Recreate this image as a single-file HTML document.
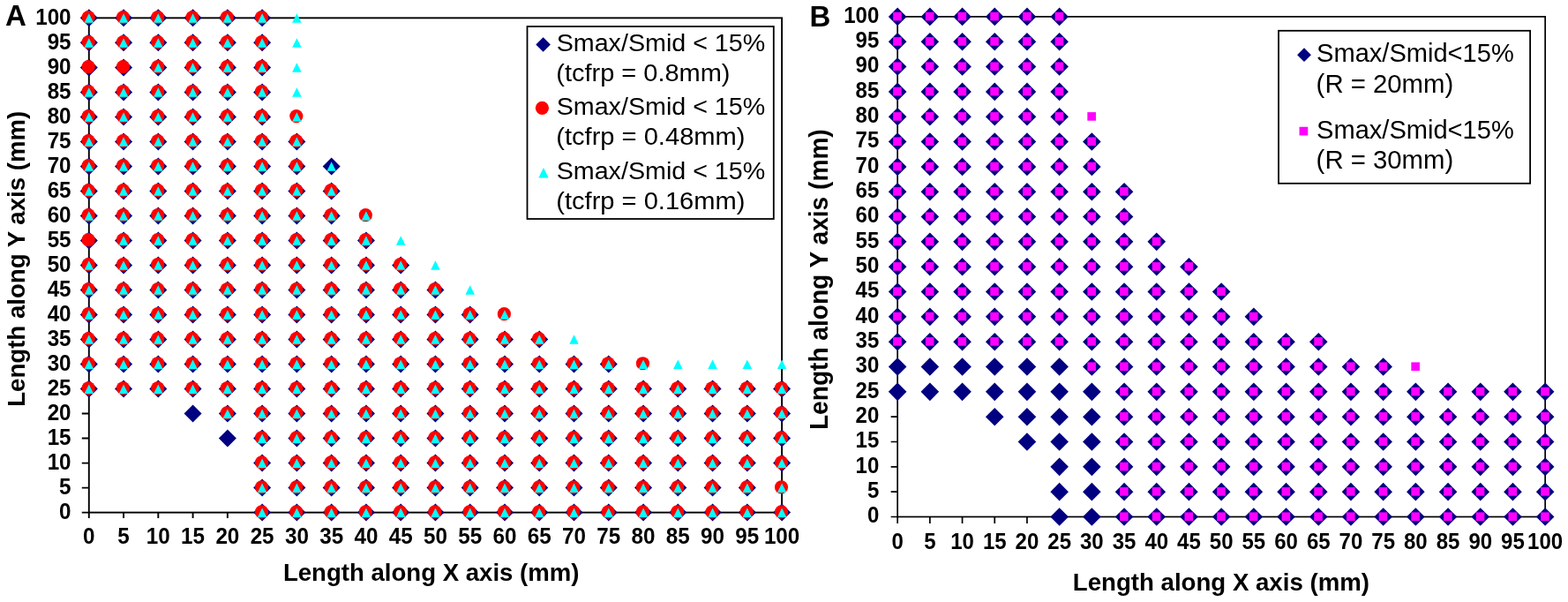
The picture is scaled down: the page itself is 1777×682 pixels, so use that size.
<!DOCTYPE html>
<html><head><meta charset="utf-8"><title>Smax/Smid scatter plots</title>
<style>html,body{margin:0;padding:0;background:#fff;}body{width:1777px;height:682px;overflow:hidden;}svg{display:block;}</style>
</head><body>
<svg width="1777" height="682" viewBox="0 0 1777 682">
<rect width="1777" height="682" fill="#fff"/>
<rect x="100.8" y="20.35" width="785.3" height="560.25" fill="none" stroke="#000" stroke-width="1.9"/>
<path d="M92.8 580.6H100.8M100.8 580.6V587.1M92.8 552.59H100.8M140.06 580.6V587.1M92.8 524.58H100.8M179.33 580.6V587.1M92.8 496.56H100.8M218.59 580.6V587.1M92.8 468.55H100.8M257.86 580.6V587.1M92.8 440.54H100.8M297.12 580.6V587.1M92.8 412.53H100.8M336.39 580.6V587.1M92.8 384.51H100.8M375.66 580.6V587.1M92.8 356.5H100.8M414.92 580.6V587.1M92.8 328.49H100.8M454.19 580.6V587.1M92.8 300.48H100.8M493.45 580.6V587.1M92.8 272.46H100.8M532.71 580.6V587.1M92.8 244.45H100.8M571.98 580.6V587.1M92.8 216.44H100.8M611.25 580.6V587.1M92.8 188.43H100.8M650.51 580.6V587.1M92.8 160.41H100.8M689.77 580.6V587.1M92.8 132.4H100.8M729.04 580.6V587.1M92.8 104.39H100.8M768.3 580.6V587.1M92.8 76.38H100.8M807.57 580.6V587.1M92.8 48.36H100.8M846.83 580.6V587.1M92.8 20.35H100.8M886.1 580.6V587.1" stroke="#000" stroke-width="1.9" fill="none"/>
<path d="M100.8 10.35L110.8 20.35L100.8 30.35L90.8 20.35Z" fill="#000080"/>
<path d="M100.8 38.36L110.8 48.36L100.8 58.36L90.8 48.36Z" fill="#000080"/>
<path d="M100.8 66.38L110.8 76.38L100.8 86.38L90.8 76.38Z" fill="#000080"/>
<path d="M100.8 94.39L110.8 104.39L100.8 114.39L90.8 104.39Z" fill="#000080"/>
<path d="M100.8 122.4L110.8 132.4L100.8 142.4L90.8 132.4Z" fill="#000080"/>
<path d="M100.8 150.41L110.8 160.41L100.8 170.41L90.8 160.41Z" fill="#000080"/>
<path d="M100.8 178.43L110.8 188.43L100.8 198.43L90.8 188.43Z" fill="#000080"/>
<path d="M100.8 206.44L110.8 216.44L100.8 226.44L90.8 216.44Z" fill="#000080"/>
<path d="M100.8 234.45L110.8 244.45L100.8 254.45L90.8 244.45Z" fill="#000080"/>
<path d="M100.8 262.46L110.8 272.46L100.8 282.46L90.8 272.46Z" fill="#000080"/>
<path d="M100.8 290.48L110.8 300.48L100.8 310.48L90.8 300.48Z" fill="#000080"/>
<path d="M100.8 318.49L110.8 328.49L100.8 338.49L90.8 328.49Z" fill="#000080"/>
<path d="M100.8 346.5L110.8 356.5L100.8 366.5L90.8 356.5Z" fill="#000080"/>
<path d="M100.8 374.51L110.8 384.51L100.8 394.51L90.8 384.51Z" fill="#000080"/>
<path d="M100.8 402.53L110.8 412.53L100.8 422.53L90.8 412.53Z" fill="#000080"/>
<path d="M100.8 430.54L110.8 440.54L100.8 450.54L90.8 440.54Z" fill="#000080"/>
<path d="M140.06 10.35L150.06 20.35L140.06 30.35L130.06 20.35Z" fill="#000080"/>
<path d="M140.06 38.36L150.06 48.36L140.06 58.36L130.06 48.36Z" fill="#000080"/>
<path d="M140.06 66.38L150.06 76.38L140.06 86.38L130.06 76.38Z" fill="#000080"/>
<path d="M140.06 94.39L150.06 104.39L140.06 114.39L130.06 104.39Z" fill="#000080"/>
<path d="M140.06 122.4L150.06 132.4L140.06 142.4L130.06 132.4Z" fill="#000080"/>
<path d="M140.06 150.41L150.06 160.41L140.06 170.41L130.06 160.41Z" fill="#000080"/>
<path d="M140.06 178.43L150.06 188.43L140.06 198.43L130.06 188.43Z" fill="#000080"/>
<path d="M140.06 206.44L150.06 216.44L140.06 226.44L130.06 216.44Z" fill="#000080"/>
<path d="M140.06 234.45L150.06 244.45L140.06 254.45L130.06 244.45Z" fill="#000080"/>
<path d="M140.06 262.46L150.06 272.46L140.06 282.46L130.06 272.46Z" fill="#000080"/>
<path d="M140.06 290.48L150.06 300.48L140.06 310.48L130.06 300.48Z" fill="#000080"/>
<path d="M140.06 318.49L150.06 328.49L140.06 338.49L130.06 328.49Z" fill="#000080"/>
<path d="M140.06 346.5L150.06 356.5L140.06 366.5L130.06 356.5Z" fill="#000080"/>
<path d="M140.06 374.51L150.06 384.51L140.06 394.51L130.06 384.51Z" fill="#000080"/>
<path d="M140.06 402.53L150.06 412.53L140.06 422.53L130.06 412.53Z" fill="#000080"/>
<path d="M140.06 430.54L150.06 440.54L140.06 450.54L130.06 440.54Z" fill="#000080"/>
<path d="M179.33 10.35L189.33 20.35L179.33 30.35L169.33 20.35Z" fill="#000080"/>
<path d="M179.33 38.36L189.33 48.36L179.33 58.36L169.33 48.36Z" fill="#000080"/>
<path d="M179.33 66.38L189.33 76.38L179.33 86.38L169.33 76.38Z" fill="#000080"/>
<path d="M179.33 94.39L189.33 104.39L179.33 114.39L169.33 104.39Z" fill="#000080"/>
<path d="M179.33 122.4L189.33 132.4L179.33 142.4L169.33 132.4Z" fill="#000080"/>
<path d="M179.33 150.41L189.33 160.41L179.33 170.41L169.33 160.41Z" fill="#000080"/>
<path d="M179.33 178.43L189.33 188.43L179.33 198.43L169.33 188.43Z" fill="#000080"/>
<path d="M179.33 206.44L189.33 216.44L179.33 226.44L169.33 216.44Z" fill="#000080"/>
<path d="M179.33 234.45L189.33 244.45L179.33 254.45L169.33 244.45Z" fill="#000080"/>
<path d="M179.33 262.46L189.33 272.46L179.33 282.46L169.33 272.46Z" fill="#000080"/>
<path d="M179.33 290.48L189.33 300.48L179.33 310.48L169.33 300.48Z" fill="#000080"/>
<path d="M179.33 318.49L189.33 328.49L179.33 338.49L169.33 328.49Z" fill="#000080"/>
<path d="M179.33 346.5L189.33 356.5L179.33 366.5L169.33 356.5Z" fill="#000080"/>
<path d="M179.33 374.51L189.33 384.51L179.33 394.51L169.33 384.51Z" fill="#000080"/>
<path d="M179.33 402.53L189.33 412.53L179.33 422.53L169.33 412.53Z" fill="#000080"/>
<path d="M179.33 430.54L189.33 440.54L179.33 450.54L169.33 440.54Z" fill="#000080"/>
<path d="M218.59 10.35L228.59 20.35L218.59 30.35L208.59 20.35Z" fill="#000080"/>
<path d="M218.59 38.36L228.59 48.36L218.59 58.36L208.59 48.36Z" fill="#000080"/>
<path d="M218.59 66.38L228.59 76.38L218.59 86.38L208.59 76.38Z" fill="#000080"/>
<path d="M218.59 94.39L228.59 104.39L218.59 114.39L208.59 104.39Z" fill="#000080"/>
<path d="M218.59 122.4L228.59 132.4L218.59 142.4L208.59 132.4Z" fill="#000080"/>
<path d="M218.59 150.41L228.59 160.41L218.59 170.41L208.59 160.41Z" fill="#000080"/>
<path d="M218.59 178.43L228.59 188.43L218.59 198.43L208.59 188.43Z" fill="#000080"/>
<path d="M218.59 206.44L228.59 216.44L218.59 226.44L208.59 216.44Z" fill="#000080"/>
<path d="M218.59 234.45L228.59 244.45L218.59 254.45L208.59 244.45Z" fill="#000080"/>
<path d="M218.59 262.46L228.59 272.46L218.59 282.46L208.59 272.46Z" fill="#000080"/>
<path d="M218.59 290.48L228.59 300.48L218.59 310.48L208.59 300.48Z" fill="#000080"/>
<path d="M218.59 318.49L228.59 328.49L218.59 338.49L208.59 328.49Z" fill="#000080"/>
<path d="M218.59 346.5L228.59 356.5L218.59 366.5L208.59 356.5Z" fill="#000080"/>
<path d="M218.59 374.51L228.59 384.51L218.59 394.51L208.59 384.51Z" fill="#000080"/>
<path d="M218.59 402.53L228.59 412.53L218.59 422.53L208.59 412.53Z" fill="#000080"/>
<path d="M218.59 430.54L228.59 440.54L218.59 450.54L208.59 440.54Z" fill="#000080"/>
<path d="M218.59 458.55L228.59 468.55L218.59 478.55L208.59 468.55Z" fill="#000080"/>
<path d="M257.86 10.35L267.86 20.35L257.86 30.35L247.86 20.35Z" fill="#000080"/>
<path d="M257.86 38.36L267.86 48.36L257.86 58.36L247.86 48.36Z" fill="#000080"/>
<path d="M257.86 66.38L267.86 76.38L257.86 86.38L247.86 76.38Z" fill="#000080"/>
<path d="M257.86 94.39L267.86 104.39L257.86 114.39L247.86 104.39Z" fill="#000080"/>
<path d="M257.86 122.4L267.86 132.4L257.86 142.4L247.86 132.4Z" fill="#000080"/>
<path d="M257.86 150.41L267.86 160.41L257.86 170.41L247.86 160.41Z" fill="#000080"/>
<path d="M257.86 178.43L267.86 188.43L257.86 198.43L247.86 188.43Z" fill="#000080"/>
<path d="M257.86 206.44L267.86 216.44L257.86 226.44L247.86 216.44Z" fill="#000080"/>
<path d="M257.86 234.45L267.86 244.45L257.86 254.45L247.86 244.45Z" fill="#000080"/>
<path d="M257.86 262.46L267.86 272.46L257.86 282.46L247.86 272.46Z" fill="#000080"/>
<path d="M257.86 290.48L267.86 300.48L257.86 310.48L247.86 300.48Z" fill="#000080"/>
<path d="M257.86 318.49L267.86 328.49L257.86 338.49L247.86 328.49Z" fill="#000080"/>
<path d="M257.86 346.5L267.86 356.5L257.86 366.5L247.86 356.5Z" fill="#000080"/>
<path d="M257.86 374.51L267.86 384.51L257.86 394.51L247.86 384.51Z" fill="#000080"/>
<path d="M257.86 402.53L267.86 412.53L257.86 422.53L247.86 412.53Z" fill="#000080"/>
<path d="M257.86 430.54L267.86 440.54L257.86 450.54L247.86 440.54Z" fill="#000080"/>
<path d="M257.86 458.55L267.86 468.55L257.86 478.55L247.86 468.55Z" fill="#000080"/>
<path d="M257.86 486.56L267.86 496.56L257.86 506.56L247.86 496.56Z" fill="#000080"/>
<path d="M297.12 10.35L307.12 20.35L297.12 30.35L287.12 20.35Z" fill="#000080"/>
<path d="M297.12 38.36L307.12 48.36L297.12 58.36L287.12 48.36Z" fill="#000080"/>
<path d="M297.12 66.38L307.12 76.38L297.12 86.38L287.12 76.38Z" fill="#000080"/>
<path d="M297.12 94.39L307.12 104.39L297.12 114.39L287.12 104.39Z" fill="#000080"/>
<path d="M297.12 122.4L307.12 132.4L297.12 142.4L287.12 132.4Z" fill="#000080"/>
<path d="M297.12 150.41L307.12 160.41L297.12 170.41L287.12 160.41Z" fill="#000080"/>
<path d="M297.12 178.43L307.12 188.43L297.12 198.43L287.12 188.43Z" fill="#000080"/>
<path d="M297.12 206.44L307.12 216.44L297.12 226.44L287.12 216.44Z" fill="#000080"/>
<path d="M297.12 234.45L307.12 244.45L297.12 254.45L287.12 244.45Z" fill="#000080"/>
<path d="M297.12 262.46L307.12 272.46L297.12 282.46L287.12 272.46Z" fill="#000080"/>
<path d="M297.12 290.48L307.12 300.48L297.12 310.48L287.12 300.48Z" fill="#000080"/>
<path d="M297.12 318.49L307.12 328.49L297.12 338.49L287.12 328.49Z" fill="#000080"/>
<path d="M297.12 346.5L307.12 356.5L297.12 366.5L287.12 356.5Z" fill="#000080"/>
<path d="M297.12 374.51L307.12 384.51L297.12 394.51L287.12 384.51Z" fill="#000080"/>
<path d="M297.12 402.53L307.12 412.53L297.12 422.53L287.12 412.53Z" fill="#000080"/>
<path d="M297.12 430.54L307.12 440.54L297.12 450.54L287.12 440.54Z" fill="#000080"/>
<path d="M297.12 458.55L307.12 468.55L297.12 478.55L287.12 468.55Z" fill="#000080"/>
<path d="M297.12 486.56L307.12 496.56L297.12 506.56L287.12 496.56Z" fill="#000080"/>
<path d="M297.12 514.58L307.12 524.58L297.12 534.58L287.12 524.58Z" fill="#000080"/>
<path d="M297.12 542.59L307.12 552.59L297.12 562.59L287.12 552.59Z" fill="#000080"/>
<path d="M297.12 570.6L307.12 580.6L297.12 590.6L287.12 580.6Z" fill="#000080"/>
<path d="M336.39 150.41L346.39 160.41L336.39 170.41L326.39 160.41Z" fill="#000080"/>
<path d="M336.39 178.43L346.39 188.43L336.39 198.43L326.39 188.43Z" fill="#000080"/>
<path d="M336.39 206.44L346.39 216.44L336.39 226.44L326.39 216.44Z" fill="#000080"/>
<path d="M336.39 234.45L346.39 244.45L336.39 254.45L326.39 244.45Z" fill="#000080"/>
<path d="M336.39 262.46L346.39 272.46L336.39 282.46L326.39 272.46Z" fill="#000080"/>
<path d="M336.39 290.48L346.39 300.48L336.39 310.48L326.39 300.48Z" fill="#000080"/>
<path d="M336.39 318.49L346.39 328.49L336.39 338.49L326.39 328.49Z" fill="#000080"/>
<path d="M336.39 346.5L346.39 356.5L336.39 366.5L326.39 356.5Z" fill="#000080"/>
<path d="M336.39 374.51L346.39 384.51L336.39 394.51L326.39 384.51Z" fill="#000080"/>
<path d="M336.39 402.53L346.39 412.53L336.39 422.53L326.39 412.53Z" fill="#000080"/>
<path d="M336.39 430.54L346.39 440.54L336.39 450.54L326.39 440.54Z" fill="#000080"/>
<path d="M336.39 458.55L346.39 468.55L336.39 478.55L326.39 468.55Z" fill="#000080"/>
<path d="M336.39 486.56L346.39 496.56L336.39 506.56L326.39 496.56Z" fill="#000080"/>
<path d="M336.39 514.58L346.39 524.58L336.39 534.58L326.39 524.58Z" fill="#000080"/>
<path d="M336.39 542.59L346.39 552.59L336.39 562.59L326.39 552.59Z" fill="#000080"/>
<path d="M336.39 570.6L346.39 580.6L336.39 590.6L326.39 580.6Z" fill="#000080"/>
<path d="M375.66 178.43L385.66 188.43L375.66 198.43L365.66 188.43Z" fill="#000080"/>
<path d="M375.66 206.44L385.66 216.44L375.66 226.44L365.66 216.44Z" fill="#000080"/>
<path d="M375.66 234.45L385.66 244.45L375.66 254.45L365.66 244.45Z" fill="#000080"/>
<path d="M375.66 262.46L385.66 272.46L375.66 282.46L365.66 272.46Z" fill="#000080"/>
<path d="M375.66 290.48L385.66 300.48L375.66 310.48L365.66 300.48Z" fill="#000080"/>
<path d="M375.66 318.49L385.66 328.49L375.66 338.49L365.66 328.49Z" fill="#000080"/>
<path d="M375.66 346.5L385.66 356.5L375.66 366.5L365.66 356.5Z" fill="#000080"/>
<path d="M375.66 374.51L385.66 384.51L375.66 394.51L365.66 384.51Z" fill="#000080"/>
<path d="M375.66 402.53L385.66 412.53L375.66 422.53L365.66 412.53Z" fill="#000080"/>
<path d="M375.66 430.54L385.66 440.54L375.66 450.54L365.66 440.54Z" fill="#000080"/>
<path d="M375.66 458.55L385.66 468.55L375.66 478.55L365.66 468.55Z" fill="#000080"/>
<path d="M375.66 486.56L385.66 496.56L375.66 506.56L365.66 496.56Z" fill="#000080"/>
<path d="M375.66 514.58L385.66 524.58L375.66 534.58L365.66 524.58Z" fill="#000080"/>
<path d="M375.66 542.59L385.66 552.59L375.66 562.59L365.66 552.59Z" fill="#000080"/>
<path d="M375.66 570.6L385.66 580.6L375.66 590.6L365.66 580.6Z" fill="#000080"/>
<path d="M414.92 262.46L424.92 272.46L414.92 282.46L404.92 272.46Z" fill="#000080"/>
<path d="M414.92 290.48L424.92 300.48L414.92 310.48L404.92 300.48Z" fill="#000080"/>
<path d="M414.92 318.49L424.92 328.49L414.92 338.49L404.92 328.49Z" fill="#000080"/>
<path d="M414.92 346.5L424.92 356.5L414.92 366.5L404.92 356.5Z" fill="#000080"/>
<path d="M414.92 374.51L424.92 384.51L414.92 394.51L404.92 384.51Z" fill="#000080"/>
<path d="M414.92 402.53L424.92 412.53L414.92 422.53L404.92 412.53Z" fill="#000080"/>
<path d="M414.92 430.54L424.92 440.54L414.92 450.54L404.92 440.54Z" fill="#000080"/>
<path d="M414.92 458.55L424.92 468.55L414.92 478.55L404.92 468.55Z" fill="#000080"/>
<path d="M414.92 486.56L424.92 496.56L414.92 506.56L404.92 496.56Z" fill="#000080"/>
<path d="M414.92 514.58L424.92 524.58L414.92 534.58L404.92 524.58Z" fill="#000080"/>
<path d="M414.92 542.59L424.92 552.59L414.92 562.59L404.92 552.59Z" fill="#000080"/>
<path d="M414.92 570.6L424.92 580.6L414.92 590.6L404.92 580.6Z" fill="#000080"/>
<path d="M454.19 290.48L464.19 300.48L454.19 310.48L444.19 300.48Z" fill="#000080"/>
<path d="M454.19 318.49L464.19 328.49L454.19 338.49L444.19 328.49Z" fill="#000080"/>
<path d="M454.19 346.5L464.19 356.5L454.19 366.5L444.19 356.5Z" fill="#000080"/>
<path d="M454.19 374.51L464.19 384.51L454.19 394.51L444.19 384.51Z" fill="#000080"/>
<path d="M454.19 402.53L464.19 412.53L454.19 422.53L444.19 412.53Z" fill="#000080"/>
<path d="M454.19 430.54L464.19 440.54L454.19 450.54L444.19 440.54Z" fill="#000080"/>
<path d="M454.19 458.55L464.19 468.55L454.19 478.55L444.19 468.55Z" fill="#000080"/>
<path d="M454.19 486.56L464.19 496.56L454.19 506.56L444.19 496.56Z" fill="#000080"/>
<path d="M454.19 514.58L464.19 524.58L454.19 534.58L444.19 524.58Z" fill="#000080"/>
<path d="M454.19 542.59L464.19 552.59L454.19 562.59L444.19 552.59Z" fill="#000080"/>
<path d="M454.19 570.6L464.19 580.6L454.19 590.6L444.19 580.6Z" fill="#000080"/>
<path d="M493.45 318.49L503.45 328.49L493.45 338.49L483.45 328.49Z" fill="#000080"/>
<path d="M493.45 346.5L503.45 356.5L493.45 366.5L483.45 356.5Z" fill="#000080"/>
<path d="M493.45 374.51L503.45 384.51L493.45 394.51L483.45 384.51Z" fill="#000080"/>
<path d="M493.45 402.53L503.45 412.53L493.45 422.53L483.45 412.53Z" fill="#000080"/>
<path d="M493.45 430.54L503.45 440.54L493.45 450.54L483.45 440.54Z" fill="#000080"/>
<path d="M493.45 458.55L503.45 468.55L493.45 478.55L483.45 468.55Z" fill="#000080"/>
<path d="M493.45 486.56L503.45 496.56L493.45 506.56L483.45 496.56Z" fill="#000080"/>
<path d="M493.45 514.58L503.45 524.58L493.45 534.58L483.45 524.58Z" fill="#000080"/>
<path d="M493.45 542.59L503.45 552.59L493.45 562.59L483.45 552.59Z" fill="#000080"/>
<path d="M493.45 570.6L503.45 580.6L493.45 590.6L483.45 580.6Z" fill="#000080"/>
<path d="M532.71 346.5L542.71 356.5L532.71 366.5L522.71 356.5Z" fill="#000080"/>
<path d="M532.71 374.51L542.71 384.51L532.71 394.51L522.71 384.51Z" fill="#000080"/>
<path d="M532.71 402.53L542.71 412.53L532.71 422.53L522.71 412.53Z" fill="#000080"/>
<path d="M532.71 430.54L542.71 440.54L532.71 450.54L522.71 440.54Z" fill="#000080"/>
<path d="M532.71 458.55L542.71 468.55L532.71 478.55L522.71 468.55Z" fill="#000080"/>
<path d="M532.71 486.56L542.71 496.56L532.71 506.56L522.71 496.56Z" fill="#000080"/>
<path d="M532.71 514.58L542.71 524.58L532.71 534.58L522.71 524.58Z" fill="#000080"/>
<path d="M532.71 542.59L542.71 552.59L532.71 562.59L522.71 552.59Z" fill="#000080"/>
<path d="M532.71 570.6L542.71 580.6L532.71 590.6L522.71 580.6Z" fill="#000080"/>
<path d="M571.98 374.51L581.98 384.51L571.98 394.51L561.98 384.51Z" fill="#000080"/>
<path d="M571.98 402.53L581.98 412.53L571.98 422.53L561.98 412.53Z" fill="#000080"/>
<path d="M571.98 430.54L581.98 440.54L571.98 450.54L561.98 440.54Z" fill="#000080"/>
<path d="M571.98 458.55L581.98 468.55L571.98 478.55L561.98 468.55Z" fill="#000080"/>
<path d="M571.98 486.56L581.98 496.56L571.98 506.56L561.98 496.56Z" fill="#000080"/>
<path d="M571.98 514.58L581.98 524.58L571.98 534.58L561.98 524.58Z" fill="#000080"/>
<path d="M571.98 542.59L581.98 552.59L571.98 562.59L561.98 552.59Z" fill="#000080"/>
<path d="M571.98 570.6L581.98 580.6L571.98 590.6L561.98 580.6Z" fill="#000080"/>
<path d="M611.25 374.51L621.25 384.51L611.25 394.51L601.25 384.51Z" fill="#000080"/>
<path d="M611.25 402.53L621.25 412.53L611.25 422.53L601.25 412.53Z" fill="#000080"/>
<path d="M611.25 430.54L621.25 440.54L611.25 450.54L601.25 440.54Z" fill="#000080"/>
<path d="M611.25 458.55L621.25 468.55L611.25 478.55L601.25 468.55Z" fill="#000080"/>
<path d="M611.25 486.56L621.25 496.56L611.25 506.56L601.25 496.56Z" fill="#000080"/>
<path d="M611.25 514.58L621.25 524.58L611.25 534.58L601.25 524.58Z" fill="#000080"/>
<path d="M611.25 542.59L621.25 552.59L611.25 562.59L601.25 552.59Z" fill="#000080"/>
<path d="M611.25 570.6L621.25 580.6L611.25 590.6L601.25 580.6Z" fill="#000080"/>
<path d="M650.51 402.53L660.51 412.53L650.51 422.53L640.51 412.53Z" fill="#000080"/>
<path d="M650.51 430.54L660.51 440.54L650.51 450.54L640.51 440.54Z" fill="#000080"/>
<path d="M650.51 458.55L660.51 468.55L650.51 478.55L640.51 468.55Z" fill="#000080"/>
<path d="M650.51 486.56L660.51 496.56L650.51 506.56L640.51 496.56Z" fill="#000080"/>
<path d="M650.51 514.58L660.51 524.58L650.51 534.58L640.51 524.58Z" fill="#000080"/>
<path d="M650.51 542.59L660.51 552.59L650.51 562.59L640.51 552.59Z" fill="#000080"/>
<path d="M650.51 570.6L660.51 580.6L650.51 590.6L640.51 580.6Z" fill="#000080"/>
<path d="M689.77 402.53L699.77 412.53L689.77 422.53L679.77 412.53Z" fill="#000080"/>
<path d="M689.77 430.54L699.77 440.54L689.77 450.54L679.77 440.54Z" fill="#000080"/>
<path d="M689.77 458.55L699.77 468.55L689.77 478.55L679.77 468.55Z" fill="#000080"/>
<path d="M689.77 486.56L699.77 496.56L689.77 506.56L679.77 496.56Z" fill="#000080"/>
<path d="M689.77 514.58L699.77 524.58L689.77 534.58L679.77 524.58Z" fill="#000080"/>
<path d="M689.77 542.59L699.77 552.59L689.77 562.59L679.77 552.59Z" fill="#000080"/>
<path d="M689.77 570.6L699.77 580.6L689.77 590.6L679.77 580.6Z" fill="#000080"/>
<path d="M729.04 430.54L739.04 440.54L729.04 450.54L719.04 440.54Z" fill="#000080"/>
<path d="M729.04 458.55L739.04 468.55L729.04 478.55L719.04 468.55Z" fill="#000080"/>
<path d="M729.04 486.56L739.04 496.56L729.04 506.56L719.04 496.56Z" fill="#000080"/>
<path d="M729.04 514.58L739.04 524.58L729.04 534.58L719.04 524.58Z" fill="#000080"/>
<path d="M729.04 542.59L739.04 552.59L729.04 562.59L719.04 552.59Z" fill="#000080"/>
<path d="M729.04 570.6L739.04 580.6L729.04 590.6L719.04 580.6Z" fill="#000080"/>
<path d="M768.3 430.54L778.3 440.54L768.3 450.54L758.3 440.54Z" fill="#000080"/>
<path d="M768.3 458.55L778.3 468.55L768.3 478.55L758.3 468.55Z" fill="#000080"/>
<path d="M768.3 486.56L778.3 496.56L768.3 506.56L758.3 496.56Z" fill="#000080"/>
<path d="M768.3 514.58L778.3 524.58L768.3 534.58L758.3 524.58Z" fill="#000080"/>
<path d="M768.3 542.59L778.3 552.59L768.3 562.59L758.3 552.59Z" fill="#000080"/>
<path d="M768.3 570.6L778.3 580.6L768.3 590.6L758.3 580.6Z" fill="#000080"/>
<path d="M807.57 430.54L817.57 440.54L807.57 450.54L797.57 440.54Z" fill="#000080"/>
<path d="M807.57 458.55L817.57 468.55L807.57 478.55L797.57 468.55Z" fill="#000080"/>
<path d="M807.57 486.56L817.57 496.56L807.57 506.56L797.57 496.56Z" fill="#000080"/>
<path d="M807.57 514.58L817.57 524.58L807.57 534.58L797.57 524.58Z" fill="#000080"/>
<path d="M807.57 542.59L817.57 552.59L807.57 562.59L797.57 552.59Z" fill="#000080"/>
<path d="M807.57 570.6L817.57 580.6L807.57 590.6L797.57 580.6Z" fill="#000080"/>
<path d="M846.83 430.54L856.83 440.54L846.83 450.54L836.83 440.54Z" fill="#000080"/>
<path d="M846.83 458.55L856.83 468.55L846.83 478.55L836.83 468.55Z" fill="#000080"/>
<path d="M846.83 486.56L856.83 496.56L846.83 506.56L836.83 496.56Z" fill="#000080"/>
<path d="M846.83 514.58L856.83 524.58L846.83 534.58L836.83 524.58Z" fill="#000080"/>
<path d="M846.83 542.59L856.83 552.59L846.83 562.59L836.83 552.59Z" fill="#000080"/>
<path d="M846.83 570.6L856.83 580.6L846.83 590.6L836.83 580.6Z" fill="#000080"/>
<path d="M886.1 430.54L896.1 440.54L886.1 450.54L876.1 440.54Z" fill="#000080"/>
<path d="M886.1 458.55L896.1 468.55L886.1 478.55L876.1 468.55Z" fill="#000080"/>
<path d="M886.1 486.56L896.1 496.56L886.1 506.56L876.1 496.56Z" fill="#000080"/>
<path d="M886.1 514.58L896.1 524.58L886.1 534.58L876.1 524.58Z" fill="#000080"/>
<path d="M886.1 570.6L896.1 580.6L886.1 590.6L876.1 580.6Z" fill="#000080"/>
<circle cx="100.2" cy="19.55" r="7.6" fill="#ff0000"/>
<circle cx="100.2" cy="47.56" r="7.6" fill="#ff0000"/>
<circle cx="100.2" cy="75.58" r="7.6" fill="#ff0000"/>
<circle cx="100.2" cy="103.59" r="7.6" fill="#ff0000"/>
<circle cx="100.2" cy="131.6" r="7.6" fill="#ff0000"/>
<circle cx="100.2" cy="159.61" r="7.6" fill="#ff0000"/>
<circle cx="100.2" cy="187.62" r="7.6" fill="#ff0000"/>
<circle cx="100.2" cy="215.64" r="7.6" fill="#ff0000"/>
<circle cx="100.2" cy="243.65" r="7.6" fill="#ff0000"/>
<circle cx="100.2" cy="271.66" r="7.6" fill="#ff0000"/>
<circle cx="100.2" cy="299.68" r="7.6" fill="#ff0000"/>
<circle cx="100.2" cy="327.69" r="7.6" fill="#ff0000"/>
<circle cx="100.2" cy="355.7" r="7.6" fill="#ff0000"/>
<circle cx="100.2" cy="383.71" r="7.6" fill="#ff0000"/>
<circle cx="100.2" cy="411.73" r="7.6" fill="#ff0000"/>
<circle cx="100.2" cy="439.74" r="7.6" fill="#ff0000"/>
<circle cx="139.47" cy="19.55" r="7.6" fill="#ff0000"/>
<circle cx="139.47" cy="47.56" r="7.6" fill="#ff0000"/>
<circle cx="139.47" cy="75.58" r="7.6" fill="#ff0000"/>
<circle cx="139.47" cy="103.59" r="7.6" fill="#ff0000"/>
<circle cx="139.47" cy="131.6" r="7.6" fill="#ff0000"/>
<circle cx="139.47" cy="159.61" r="7.6" fill="#ff0000"/>
<circle cx="139.47" cy="187.62" r="7.6" fill="#ff0000"/>
<circle cx="139.47" cy="215.64" r="7.6" fill="#ff0000"/>
<circle cx="139.47" cy="243.65" r="7.6" fill="#ff0000"/>
<circle cx="139.47" cy="271.66" r="7.6" fill="#ff0000"/>
<circle cx="139.47" cy="299.68" r="7.6" fill="#ff0000"/>
<circle cx="139.47" cy="327.69" r="7.6" fill="#ff0000"/>
<circle cx="139.47" cy="355.7" r="7.6" fill="#ff0000"/>
<circle cx="139.47" cy="383.71" r="7.6" fill="#ff0000"/>
<circle cx="139.47" cy="411.73" r="7.6" fill="#ff0000"/>
<circle cx="139.47" cy="439.74" r="7.6" fill="#ff0000"/>
<circle cx="178.73" cy="19.55" r="7.6" fill="#ff0000"/>
<circle cx="178.73" cy="47.56" r="7.6" fill="#ff0000"/>
<circle cx="178.73" cy="75.58" r="7.6" fill="#ff0000"/>
<circle cx="178.73" cy="103.59" r="7.6" fill="#ff0000"/>
<circle cx="178.73" cy="131.6" r="7.6" fill="#ff0000"/>
<circle cx="178.73" cy="159.61" r="7.6" fill="#ff0000"/>
<circle cx="178.73" cy="187.62" r="7.6" fill="#ff0000"/>
<circle cx="178.73" cy="215.64" r="7.6" fill="#ff0000"/>
<circle cx="178.73" cy="243.65" r="7.6" fill="#ff0000"/>
<circle cx="178.73" cy="271.66" r="7.6" fill="#ff0000"/>
<circle cx="178.73" cy="299.68" r="7.6" fill="#ff0000"/>
<circle cx="178.73" cy="327.69" r="7.6" fill="#ff0000"/>
<circle cx="178.73" cy="355.7" r="7.6" fill="#ff0000"/>
<circle cx="178.73" cy="383.71" r="7.6" fill="#ff0000"/>
<circle cx="178.73" cy="411.73" r="7.6" fill="#ff0000"/>
<circle cx="178.73" cy="439.74" r="7.6" fill="#ff0000"/>
<circle cx="218" cy="19.55" r="7.6" fill="#ff0000"/>
<circle cx="218" cy="47.56" r="7.6" fill="#ff0000"/>
<circle cx="218" cy="75.58" r="7.6" fill="#ff0000"/>
<circle cx="218" cy="103.59" r="7.6" fill="#ff0000"/>
<circle cx="218" cy="131.6" r="7.6" fill="#ff0000"/>
<circle cx="218" cy="159.61" r="7.6" fill="#ff0000"/>
<circle cx="218" cy="187.62" r="7.6" fill="#ff0000"/>
<circle cx="218" cy="215.64" r="7.6" fill="#ff0000"/>
<circle cx="218" cy="243.65" r="7.6" fill="#ff0000"/>
<circle cx="218" cy="271.66" r="7.6" fill="#ff0000"/>
<circle cx="218" cy="299.68" r="7.6" fill="#ff0000"/>
<circle cx="218" cy="327.69" r="7.6" fill="#ff0000"/>
<circle cx="218" cy="355.7" r="7.6" fill="#ff0000"/>
<circle cx="218" cy="383.71" r="7.6" fill="#ff0000"/>
<circle cx="218" cy="411.73" r="7.6" fill="#ff0000"/>
<circle cx="218" cy="439.74" r="7.6" fill="#ff0000"/>
<circle cx="257.26" cy="19.55" r="7.6" fill="#ff0000"/>
<circle cx="257.26" cy="47.56" r="7.6" fill="#ff0000"/>
<circle cx="257.26" cy="75.58" r="7.6" fill="#ff0000"/>
<circle cx="257.26" cy="103.59" r="7.6" fill="#ff0000"/>
<circle cx="257.26" cy="131.6" r="7.6" fill="#ff0000"/>
<circle cx="257.26" cy="159.61" r="7.6" fill="#ff0000"/>
<circle cx="257.26" cy="187.62" r="7.6" fill="#ff0000"/>
<circle cx="257.26" cy="215.64" r="7.6" fill="#ff0000"/>
<circle cx="257.26" cy="243.65" r="7.6" fill="#ff0000"/>
<circle cx="257.26" cy="271.66" r="7.6" fill="#ff0000"/>
<circle cx="257.26" cy="299.68" r="7.6" fill="#ff0000"/>
<circle cx="257.26" cy="327.69" r="7.6" fill="#ff0000"/>
<circle cx="257.26" cy="355.7" r="7.6" fill="#ff0000"/>
<circle cx="257.26" cy="383.71" r="7.6" fill="#ff0000"/>
<circle cx="257.26" cy="411.73" r="7.6" fill="#ff0000"/>
<circle cx="257.26" cy="439.74" r="7.6" fill="#ff0000"/>
<circle cx="257.26" cy="467.75" r="7.6" fill="#ff0000"/>
<circle cx="296.52" cy="19.55" r="7.6" fill="#ff0000"/>
<circle cx="296.52" cy="47.56" r="7.6" fill="#ff0000"/>
<circle cx="296.52" cy="75.58" r="7.6" fill="#ff0000"/>
<circle cx="296.52" cy="103.59" r="7.6" fill="#ff0000"/>
<circle cx="296.52" cy="131.6" r="7.6" fill="#ff0000"/>
<circle cx="296.52" cy="159.61" r="7.6" fill="#ff0000"/>
<circle cx="296.52" cy="187.62" r="7.6" fill="#ff0000"/>
<circle cx="296.52" cy="215.64" r="7.6" fill="#ff0000"/>
<circle cx="296.52" cy="243.65" r="7.6" fill="#ff0000"/>
<circle cx="296.52" cy="271.66" r="7.6" fill="#ff0000"/>
<circle cx="296.52" cy="299.68" r="7.6" fill="#ff0000"/>
<circle cx="296.52" cy="327.69" r="7.6" fill="#ff0000"/>
<circle cx="296.52" cy="355.7" r="7.6" fill="#ff0000"/>
<circle cx="296.52" cy="383.71" r="7.6" fill="#ff0000"/>
<circle cx="296.52" cy="411.73" r="7.6" fill="#ff0000"/>
<circle cx="296.52" cy="439.74" r="7.6" fill="#ff0000"/>
<circle cx="296.52" cy="467.75" r="7.6" fill="#ff0000"/>
<circle cx="296.52" cy="495.76" r="7.6" fill="#ff0000"/>
<circle cx="296.52" cy="523.78" r="7.6" fill="#ff0000"/>
<circle cx="296.52" cy="551.79" r="7.6" fill="#ff0000"/>
<circle cx="296.52" cy="579.8" r="7.6" fill="#ff0000"/>
<circle cx="335.79" cy="131.6" r="7.6" fill="#ff0000"/>
<circle cx="335.79" cy="159.61" r="7.6" fill="#ff0000"/>
<circle cx="335.79" cy="187.62" r="7.6" fill="#ff0000"/>
<circle cx="335.79" cy="215.64" r="7.6" fill="#ff0000"/>
<circle cx="335.79" cy="243.65" r="7.6" fill="#ff0000"/>
<circle cx="335.79" cy="271.66" r="7.6" fill="#ff0000"/>
<circle cx="335.79" cy="299.68" r="7.6" fill="#ff0000"/>
<circle cx="335.79" cy="327.69" r="7.6" fill="#ff0000"/>
<circle cx="335.79" cy="355.7" r="7.6" fill="#ff0000"/>
<circle cx="335.79" cy="383.71" r="7.6" fill="#ff0000"/>
<circle cx="335.79" cy="411.73" r="7.6" fill="#ff0000"/>
<circle cx="335.79" cy="439.74" r="7.6" fill="#ff0000"/>
<circle cx="335.79" cy="467.75" r="7.6" fill="#ff0000"/>
<circle cx="335.79" cy="495.76" r="7.6" fill="#ff0000"/>
<circle cx="335.79" cy="523.78" r="7.6" fill="#ff0000"/>
<circle cx="335.79" cy="551.79" r="7.6" fill="#ff0000"/>
<circle cx="335.79" cy="579.8" r="7.6" fill="#ff0000"/>
<circle cx="375.06" cy="215.64" r="7.6" fill="#ff0000"/>
<circle cx="375.06" cy="243.65" r="7.6" fill="#ff0000"/>
<circle cx="375.06" cy="271.66" r="7.6" fill="#ff0000"/>
<circle cx="375.06" cy="299.68" r="7.6" fill="#ff0000"/>
<circle cx="375.06" cy="327.69" r="7.6" fill="#ff0000"/>
<circle cx="375.06" cy="355.7" r="7.6" fill="#ff0000"/>
<circle cx="375.06" cy="383.71" r="7.6" fill="#ff0000"/>
<circle cx="375.06" cy="411.73" r="7.6" fill="#ff0000"/>
<circle cx="375.06" cy="439.74" r="7.6" fill="#ff0000"/>
<circle cx="375.06" cy="467.75" r="7.6" fill="#ff0000"/>
<circle cx="375.06" cy="495.76" r="7.6" fill="#ff0000"/>
<circle cx="375.06" cy="523.78" r="7.6" fill="#ff0000"/>
<circle cx="375.06" cy="551.79" r="7.6" fill="#ff0000"/>
<circle cx="375.06" cy="579.8" r="7.6" fill="#ff0000"/>
<circle cx="414.32" cy="243.65" r="7.6" fill="#ff0000"/>
<circle cx="414.32" cy="271.66" r="7.6" fill="#ff0000"/>
<circle cx="414.32" cy="299.68" r="7.6" fill="#ff0000"/>
<circle cx="414.32" cy="327.69" r="7.6" fill="#ff0000"/>
<circle cx="414.32" cy="355.7" r="7.6" fill="#ff0000"/>
<circle cx="414.32" cy="383.71" r="7.6" fill="#ff0000"/>
<circle cx="414.32" cy="411.73" r="7.6" fill="#ff0000"/>
<circle cx="414.32" cy="439.74" r="7.6" fill="#ff0000"/>
<circle cx="414.32" cy="467.75" r="7.6" fill="#ff0000"/>
<circle cx="414.32" cy="495.76" r="7.6" fill="#ff0000"/>
<circle cx="414.32" cy="523.78" r="7.6" fill="#ff0000"/>
<circle cx="414.32" cy="551.79" r="7.6" fill="#ff0000"/>
<circle cx="414.32" cy="579.8" r="7.6" fill="#ff0000"/>
<circle cx="453.58" cy="299.68" r="7.6" fill="#ff0000"/>
<circle cx="453.58" cy="327.69" r="7.6" fill="#ff0000"/>
<circle cx="453.58" cy="355.7" r="7.6" fill="#ff0000"/>
<circle cx="453.58" cy="383.71" r="7.6" fill="#ff0000"/>
<circle cx="453.58" cy="411.73" r="7.6" fill="#ff0000"/>
<circle cx="453.58" cy="439.74" r="7.6" fill="#ff0000"/>
<circle cx="453.58" cy="467.75" r="7.6" fill="#ff0000"/>
<circle cx="453.58" cy="495.76" r="7.6" fill="#ff0000"/>
<circle cx="453.58" cy="523.78" r="7.6" fill="#ff0000"/>
<circle cx="453.58" cy="551.79" r="7.6" fill="#ff0000"/>
<circle cx="453.58" cy="579.8" r="7.6" fill="#ff0000"/>
<circle cx="492.85" cy="327.69" r="7.6" fill="#ff0000"/>
<circle cx="492.85" cy="355.7" r="7.6" fill="#ff0000"/>
<circle cx="492.85" cy="383.71" r="7.6" fill="#ff0000"/>
<circle cx="492.85" cy="411.73" r="7.6" fill="#ff0000"/>
<circle cx="492.85" cy="439.74" r="7.6" fill="#ff0000"/>
<circle cx="492.85" cy="467.75" r="7.6" fill="#ff0000"/>
<circle cx="492.85" cy="495.76" r="7.6" fill="#ff0000"/>
<circle cx="492.85" cy="523.78" r="7.6" fill="#ff0000"/>
<circle cx="492.85" cy="551.79" r="7.6" fill="#ff0000"/>
<circle cx="492.85" cy="579.8" r="7.6" fill="#ff0000"/>
<circle cx="532.11" cy="355.7" r="7.6" fill="#ff0000"/>
<circle cx="532.11" cy="383.71" r="7.6" fill="#ff0000"/>
<circle cx="532.11" cy="411.73" r="7.6" fill="#ff0000"/>
<circle cx="532.11" cy="439.74" r="7.6" fill="#ff0000"/>
<circle cx="532.11" cy="467.75" r="7.6" fill="#ff0000"/>
<circle cx="532.11" cy="495.76" r="7.6" fill="#ff0000"/>
<circle cx="532.11" cy="523.78" r="7.6" fill="#ff0000"/>
<circle cx="532.11" cy="551.79" r="7.6" fill="#ff0000"/>
<circle cx="532.11" cy="579.8" r="7.6" fill="#ff0000"/>
<circle cx="571.38" cy="355.7" r="7.6" fill="#ff0000"/>
<circle cx="571.38" cy="383.71" r="7.6" fill="#ff0000"/>
<circle cx="571.38" cy="411.73" r="7.6" fill="#ff0000"/>
<circle cx="571.38" cy="439.74" r="7.6" fill="#ff0000"/>
<circle cx="571.38" cy="467.75" r="7.6" fill="#ff0000"/>
<circle cx="571.38" cy="495.76" r="7.6" fill="#ff0000"/>
<circle cx="571.38" cy="523.78" r="7.6" fill="#ff0000"/>
<circle cx="571.38" cy="551.79" r="7.6" fill="#ff0000"/>
<circle cx="571.38" cy="579.8" r="7.6" fill="#ff0000"/>
<circle cx="610.64" cy="383.71" r="7.6" fill="#ff0000"/>
<circle cx="610.64" cy="411.73" r="7.6" fill="#ff0000"/>
<circle cx="610.64" cy="439.74" r="7.6" fill="#ff0000"/>
<circle cx="610.64" cy="467.75" r="7.6" fill="#ff0000"/>
<circle cx="610.64" cy="495.76" r="7.6" fill="#ff0000"/>
<circle cx="610.64" cy="523.78" r="7.6" fill="#ff0000"/>
<circle cx="610.64" cy="551.79" r="7.6" fill="#ff0000"/>
<circle cx="610.64" cy="579.8" r="7.6" fill="#ff0000"/>
<circle cx="649.91" cy="411.73" r="7.6" fill="#ff0000"/>
<circle cx="649.91" cy="439.74" r="7.6" fill="#ff0000"/>
<circle cx="649.91" cy="467.75" r="7.6" fill="#ff0000"/>
<circle cx="649.91" cy="495.76" r="7.6" fill="#ff0000"/>
<circle cx="649.91" cy="523.78" r="7.6" fill="#ff0000"/>
<circle cx="649.91" cy="551.79" r="7.6" fill="#ff0000"/>
<circle cx="649.91" cy="579.8" r="7.6" fill="#ff0000"/>
<circle cx="689.17" cy="411.73" r="7.6" fill="#ff0000"/>
<circle cx="689.17" cy="439.74" r="7.6" fill="#ff0000"/>
<circle cx="689.17" cy="467.75" r="7.6" fill="#ff0000"/>
<circle cx="689.17" cy="495.76" r="7.6" fill="#ff0000"/>
<circle cx="689.17" cy="523.78" r="7.6" fill="#ff0000"/>
<circle cx="689.17" cy="551.79" r="7.6" fill="#ff0000"/>
<circle cx="689.17" cy="579.8" r="7.6" fill="#ff0000"/>
<circle cx="728.44" cy="411.73" r="7.6" fill="#ff0000"/>
<circle cx="728.44" cy="439.74" r="7.6" fill="#ff0000"/>
<circle cx="728.44" cy="467.75" r="7.6" fill="#ff0000"/>
<circle cx="728.44" cy="495.76" r="7.6" fill="#ff0000"/>
<circle cx="728.44" cy="523.78" r="7.6" fill="#ff0000"/>
<circle cx="728.44" cy="551.79" r="7.6" fill="#ff0000"/>
<circle cx="728.44" cy="579.8" r="7.6" fill="#ff0000"/>
<circle cx="767.7" cy="439.74" r="7.6" fill="#ff0000"/>
<circle cx="767.7" cy="467.75" r="7.6" fill="#ff0000"/>
<circle cx="767.7" cy="495.76" r="7.6" fill="#ff0000"/>
<circle cx="767.7" cy="523.78" r="7.6" fill="#ff0000"/>
<circle cx="767.7" cy="551.79" r="7.6" fill="#ff0000"/>
<circle cx="767.7" cy="579.8" r="7.6" fill="#ff0000"/>
<circle cx="806.97" cy="439.74" r="7.6" fill="#ff0000"/>
<circle cx="806.97" cy="467.75" r="7.6" fill="#ff0000"/>
<circle cx="806.97" cy="495.76" r="7.6" fill="#ff0000"/>
<circle cx="806.97" cy="523.78" r="7.6" fill="#ff0000"/>
<circle cx="806.97" cy="551.79" r="7.6" fill="#ff0000"/>
<circle cx="806.97" cy="579.8" r="7.6" fill="#ff0000"/>
<circle cx="846.23" cy="439.74" r="7.6" fill="#ff0000"/>
<circle cx="846.23" cy="467.75" r="7.6" fill="#ff0000"/>
<circle cx="846.23" cy="495.76" r="7.6" fill="#ff0000"/>
<circle cx="846.23" cy="523.78" r="7.6" fill="#ff0000"/>
<circle cx="846.23" cy="551.79" r="7.6" fill="#ff0000"/>
<circle cx="846.23" cy="579.8" r="7.6" fill="#ff0000"/>
<circle cx="885.5" cy="439.74" r="7.6" fill="#ff0000"/>
<circle cx="885.5" cy="467.75" r="7.6" fill="#ff0000"/>
<circle cx="885.5" cy="495.76" r="7.6" fill="#ff0000"/>
<circle cx="885.5" cy="523.78" r="7.6" fill="#ff0000"/>
<circle cx="885.5" cy="551.79" r="7.6" fill="#ff0000"/>
<circle cx="885.5" cy="579.8" r="7.6" fill="#ff0000"/>
<path d="M100.8 15.2L106.05 25.7L95.55 25.7Z" fill="#00ffff"/>
<path d="M100.8 43.21L106.05 53.71L95.55 53.71Z" fill="#00ffff"/>
<path d="M100.8 99.24L106.05 109.74L95.55 109.74Z" fill="#00ffff"/>
<path d="M100.8 127.25L106.05 137.75L95.55 137.75Z" fill="#00ffff"/>
<path d="M100.8 155.26L106.05 165.76L95.55 165.76Z" fill="#00ffff"/>
<path d="M100.8 183.28L106.05 193.78L95.55 193.78Z" fill="#00ffff"/>
<path d="M100.8 211.29L106.05 221.79L95.55 221.79Z" fill="#00ffff"/>
<path d="M100.8 239.3L106.05 249.8L95.55 249.8Z" fill="#00ffff"/>
<path d="M100.8 295.33L106.05 305.83L95.55 305.83Z" fill="#00ffff"/>
<path d="M100.8 323.34L106.05 333.84L95.55 333.84Z" fill="#00ffff"/>
<path d="M100.8 351.35L106.05 361.85L95.55 361.85Z" fill="#00ffff"/>
<path d="M100.8 379.36L106.05 389.86L95.55 389.86Z" fill="#00ffff"/>
<path d="M100.8 407.38L106.05 417.88L95.55 417.88Z" fill="#00ffff"/>
<path d="M100.8 435.39L106.05 445.89L95.55 445.89Z" fill="#00ffff"/>
<path d="M140.06 15.2L145.31 25.7L134.81 25.7Z" fill="#00ffff"/>
<path d="M140.06 43.21L145.31 53.71L134.81 53.71Z" fill="#00ffff"/>
<path d="M140.06 99.24L145.31 109.74L134.81 109.74Z" fill="#00ffff"/>
<path d="M140.06 127.25L145.31 137.75L134.81 137.75Z" fill="#00ffff"/>
<path d="M140.06 155.26L145.31 165.76L134.81 165.76Z" fill="#00ffff"/>
<path d="M140.06 183.28L145.31 193.78L134.81 193.78Z" fill="#00ffff"/>
<path d="M140.06 211.29L145.31 221.79L134.81 221.79Z" fill="#00ffff"/>
<path d="M140.06 239.3L145.31 249.8L134.81 249.8Z" fill="#00ffff"/>
<path d="M140.06 267.31L145.31 277.81L134.81 277.81Z" fill="#00ffff"/>
<path d="M140.06 295.33L145.31 305.83L134.81 305.83Z" fill="#00ffff"/>
<path d="M140.06 323.34L145.31 333.84L134.81 333.84Z" fill="#00ffff"/>
<path d="M140.06 351.35L145.31 361.85L134.81 361.85Z" fill="#00ffff"/>
<path d="M140.06 379.36L145.31 389.86L134.81 389.86Z" fill="#00ffff"/>
<path d="M140.06 407.38L145.31 417.88L134.81 417.88Z" fill="#00ffff"/>
<path d="M140.06 435.39L145.31 445.89L134.81 445.89Z" fill="#00ffff"/>
<path d="M179.33 15.2L184.58 25.7L174.08 25.7Z" fill="#00ffff"/>
<path d="M179.33 43.21L184.58 53.71L174.08 53.71Z" fill="#00ffff"/>
<path d="M179.33 71.22L184.58 81.72L174.08 81.72Z" fill="#00ffff"/>
<path d="M179.33 99.24L184.58 109.74L174.08 109.74Z" fill="#00ffff"/>
<path d="M179.33 127.25L184.58 137.75L174.08 137.75Z" fill="#00ffff"/>
<path d="M179.33 155.26L184.58 165.76L174.08 165.76Z" fill="#00ffff"/>
<path d="M179.33 183.28L184.58 193.78L174.08 193.78Z" fill="#00ffff"/>
<path d="M179.33 211.29L184.58 221.79L174.08 221.79Z" fill="#00ffff"/>
<path d="M179.33 239.3L184.58 249.8L174.08 249.8Z" fill="#00ffff"/>
<path d="M179.33 267.31L184.58 277.81L174.08 277.81Z" fill="#00ffff"/>
<path d="M179.33 295.33L184.58 305.83L174.08 305.83Z" fill="#00ffff"/>
<path d="M179.33 323.34L184.58 333.84L174.08 333.84Z" fill="#00ffff"/>
<path d="M179.33 351.35L184.58 361.85L174.08 361.85Z" fill="#00ffff"/>
<path d="M179.33 379.36L184.58 389.86L174.08 389.86Z" fill="#00ffff"/>
<path d="M179.33 407.38L184.58 417.88L174.08 417.88Z" fill="#00ffff"/>
<path d="M179.33 435.39L184.58 445.89L174.08 445.89Z" fill="#00ffff"/>
<path d="M218.59 15.2L223.84 25.7L213.34 25.7Z" fill="#00ffff"/>
<path d="M218.59 43.21L223.84 53.71L213.34 53.71Z" fill="#00ffff"/>
<path d="M218.59 71.22L223.84 81.72L213.34 81.72Z" fill="#00ffff"/>
<path d="M218.59 99.24L223.84 109.74L213.34 109.74Z" fill="#00ffff"/>
<path d="M218.59 127.25L223.84 137.75L213.34 137.75Z" fill="#00ffff"/>
<path d="M218.59 155.26L223.84 165.76L213.34 165.76Z" fill="#00ffff"/>
<path d="M218.59 183.28L223.84 193.78L213.34 193.78Z" fill="#00ffff"/>
<path d="M218.59 211.29L223.84 221.79L213.34 221.79Z" fill="#00ffff"/>
<path d="M218.59 239.3L223.84 249.8L213.34 249.8Z" fill="#00ffff"/>
<path d="M218.59 267.31L223.84 277.81L213.34 277.81Z" fill="#00ffff"/>
<path d="M218.59 295.33L223.84 305.83L213.34 305.83Z" fill="#00ffff"/>
<path d="M218.59 323.34L223.84 333.84L213.34 333.84Z" fill="#00ffff"/>
<path d="M218.59 351.35L223.84 361.85L213.34 361.85Z" fill="#00ffff"/>
<path d="M218.59 379.36L223.84 389.86L213.34 389.86Z" fill="#00ffff"/>
<path d="M218.59 407.38L223.84 417.88L213.34 417.88Z" fill="#00ffff"/>
<path d="M218.59 435.39L223.84 445.89L213.34 445.89Z" fill="#00ffff"/>
<path d="M257.86 15.2L263.11 25.7L252.61 25.7Z" fill="#00ffff"/>
<path d="M257.86 43.21L263.11 53.71L252.61 53.71Z" fill="#00ffff"/>
<path d="M257.86 71.22L263.11 81.72L252.61 81.72Z" fill="#00ffff"/>
<path d="M257.86 99.24L263.11 109.74L252.61 109.74Z" fill="#00ffff"/>
<path d="M257.86 127.25L263.11 137.75L252.61 137.75Z" fill="#00ffff"/>
<path d="M257.86 155.26L263.11 165.76L252.61 165.76Z" fill="#00ffff"/>
<path d="M257.86 183.28L263.11 193.78L252.61 193.78Z" fill="#00ffff"/>
<path d="M257.86 211.29L263.11 221.79L252.61 221.79Z" fill="#00ffff"/>
<path d="M257.86 239.3L263.11 249.8L252.61 249.8Z" fill="#00ffff"/>
<path d="M257.86 267.31L263.11 277.81L252.61 277.81Z" fill="#00ffff"/>
<path d="M257.86 295.33L263.11 305.83L252.61 305.83Z" fill="#00ffff"/>
<path d="M257.86 323.34L263.11 333.84L252.61 333.84Z" fill="#00ffff"/>
<path d="M257.86 351.35L263.11 361.85L252.61 361.85Z" fill="#00ffff"/>
<path d="M257.86 379.36L263.11 389.86L252.61 389.86Z" fill="#00ffff"/>
<path d="M257.86 407.38L263.11 417.88L252.61 417.88Z" fill="#00ffff"/>
<path d="M257.86 435.39L263.11 445.89L252.61 445.89Z" fill="#00ffff"/>
<path d="M257.86 463.4L263.11 473.9L252.61 473.9Z" fill="#00ffff"/>
<path d="M297.12 15.2L302.38 25.7L291.88 25.7Z" fill="#00ffff"/>
<path d="M297.12 43.21L302.38 53.71L291.88 53.71Z" fill="#00ffff"/>
<path d="M297.12 71.22L302.38 81.72L291.88 81.72Z" fill="#00ffff"/>
<path d="M297.12 99.24L302.38 109.74L291.88 109.74Z" fill="#00ffff"/>
<path d="M297.12 127.25L302.38 137.75L291.88 137.75Z" fill="#00ffff"/>
<path d="M297.12 155.26L302.38 165.76L291.88 165.76Z" fill="#00ffff"/>
<path d="M297.12 183.28L302.38 193.78L291.88 193.78Z" fill="#00ffff"/>
<path d="M297.12 211.29L302.38 221.79L291.88 221.79Z" fill="#00ffff"/>
<path d="M297.12 239.3L302.38 249.8L291.88 249.8Z" fill="#00ffff"/>
<path d="M297.12 267.31L302.38 277.81L291.88 277.81Z" fill="#00ffff"/>
<path d="M297.12 295.33L302.38 305.83L291.88 305.83Z" fill="#00ffff"/>
<path d="M297.12 323.34L302.38 333.84L291.88 333.84Z" fill="#00ffff"/>
<path d="M297.12 351.35L302.38 361.85L291.88 361.85Z" fill="#00ffff"/>
<path d="M297.12 379.36L302.38 389.86L291.88 389.86Z" fill="#00ffff"/>
<path d="M297.12 407.38L302.38 417.88L291.88 417.88Z" fill="#00ffff"/>
<path d="M297.12 435.39L302.38 445.89L291.88 445.89Z" fill="#00ffff"/>
<path d="M297.12 463.4L302.38 473.9L291.88 473.9Z" fill="#00ffff"/>
<path d="M297.12 491.41L302.38 501.91L291.88 501.91Z" fill="#00ffff"/>
<path d="M297.12 519.43L302.38 529.93L291.88 529.93Z" fill="#00ffff"/>
<path d="M297.12 547.44L302.38 557.94L291.88 557.94Z" fill="#00ffff"/>
<path d="M297.12 575.45L302.38 585.95L291.88 585.95Z" fill="#00ffff"/>
<path d="M336.39 15.2L341.64 25.7L331.14 25.7Z" fill="#00ffff"/>
<path d="M336.39 43.21L341.64 53.71L331.14 53.71Z" fill="#00ffff"/>
<path d="M336.39 71.22L341.64 81.72L331.14 81.72Z" fill="#00ffff"/>
<path d="M336.39 99.24L341.64 109.74L331.14 109.74Z" fill="#00ffff"/>
<path d="M336.39 127.25L341.64 137.75L331.14 137.75Z" fill="#00ffff"/>
<path d="M336.39 155.26L341.64 165.76L331.14 165.76Z" fill="#00ffff"/>
<path d="M336.39 183.28L341.64 193.78L331.14 193.78Z" fill="#00ffff"/>
<path d="M336.39 211.29L341.64 221.79L331.14 221.79Z" fill="#00ffff"/>
<path d="M336.39 239.3L341.64 249.8L331.14 249.8Z" fill="#00ffff"/>
<path d="M336.39 267.31L341.64 277.81L331.14 277.81Z" fill="#00ffff"/>
<path d="M336.39 295.33L341.64 305.83L331.14 305.83Z" fill="#00ffff"/>
<path d="M336.39 323.34L341.64 333.84L331.14 333.84Z" fill="#00ffff"/>
<path d="M336.39 351.35L341.64 361.85L331.14 361.85Z" fill="#00ffff"/>
<path d="M336.39 379.36L341.64 389.86L331.14 389.86Z" fill="#00ffff"/>
<path d="M336.39 407.38L341.64 417.88L331.14 417.88Z" fill="#00ffff"/>
<path d="M336.39 435.39L341.64 445.89L331.14 445.89Z" fill="#00ffff"/>
<path d="M336.39 463.4L341.64 473.9L331.14 473.9Z" fill="#00ffff"/>
<path d="M336.39 491.41L341.64 501.91L331.14 501.91Z" fill="#00ffff"/>
<path d="M336.39 519.43L341.64 529.93L331.14 529.93Z" fill="#00ffff"/>
<path d="M336.39 547.44L341.64 557.94L331.14 557.94Z" fill="#00ffff"/>
<path d="M336.39 575.45L341.64 585.95L331.14 585.95Z" fill="#00ffff"/>
<path d="M375.66 183.28L380.91 193.78L370.41 193.78Z" fill="#00ffff"/>
<path d="M375.66 211.29L380.91 221.79L370.41 221.79Z" fill="#00ffff"/>
<path d="M375.66 239.3L380.91 249.8L370.41 249.8Z" fill="#00ffff"/>
<path d="M375.66 267.31L380.91 277.81L370.41 277.81Z" fill="#00ffff"/>
<path d="M375.66 295.33L380.91 305.83L370.41 305.83Z" fill="#00ffff"/>
<path d="M375.66 323.34L380.91 333.84L370.41 333.84Z" fill="#00ffff"/>
<path d="M375.66 351.35L380.91 361.85L370.41 361.85Z" fill="#00ffff"/>
<path d="M375.66 379.36L380.91 389.86L370.41 389.86Z" fill="#00ffff"/>
<path d="M375.66 407.38L380.91 417.88L370.41 417.88Z" fill="#00ffff"/>
<path d="M375.66 435.39L380.91 445.89L370.41 445.89Z" fill="#00ffff"/>
<path d="M375.66 463.4L380.91 473.9L370.41 473.9Z" fill="#00ffff"/>
<path d="M375.66 491.41L380.91 501.91L370.41 501.91Z" fill="#00ffff"/>
<path d="M375.66 519.43L380.91 529.93L370.41 529.93Z" fill="#00ffff"/>
<path d="M375.66 547.44L380.91 557.94L370.41 557.94Z" fill="#00ffff"/>
<path d="M375.66 575.45L380.91 585.95L370.41 585.95Z" fill="#00ffff"/>
<path d="M414.92 239.3L420.17 249.8L409.67 249.8Z" fill="#00ffff"/>
<path d="M414.92 267.31L420.17 277.81L409.67 277.81Z" fill="#00ffff"/>
<path d="M414.92 295.33L420.17 305.83L409.67 305.83Z" fill="#00ffff"/>
<path d="M414.92 323.34L420.17 333.84L409.67 333.84Z" fill="#00ffff"/>
<path d="M414.92 351.35L420.17 361.85L409.67 361.85Z" fill="#00ffff"/>
<path d="M414.92 379.36L420.17 389.86L409.67 389.86Z" fill="#00ffff"/>
<path d="M414.92 407.38L420.17 417.88L409.67 417.88Z" fill="#00ffff"/>
<path d="M414.92 435.39L420.17 445.89L409.67 445.89Z" fill="#00ffff"/>
<path d="M414.92 463.4L420.17 473.9L409.67 473.9Z" fill="#00ffff"/>
<path d="M414.92 491.41L420.17 501.91L409.67 501.91Z" fill="#00ffff"/>
<path d="M414.92 519.43L420.17 529.93L409.67 529.93Z" fill="#00ffff"/>
<path d="M414.92 547.44L420.17 557.94L409.67 557.94Z" fill="#00ffff"/>
<path d="M414.92 575.45L420.17 585.95L409.67 585.95Z" fill="#00ffff"/>
<path d="M454.19 267.31L459.44 277.81L448.94 277.81Z" fill="#00ffff"/>
<path d="M454.19 295.33L459.44 305.83L448.94 305.83Z" fill="#00ffff"/>
<path d="M454.19 323.34L459.44 333.84L448.94 333.84Z" fill="#00ffff"/>
<path d="M454.19 351.35L459.44 361.85L448.94 361.85Z" fill="#00ffff"/>
<path d="M454.19 379.36L459.44 389.86L448.94 389.86Z" fill="#00ffff"/>
<path d="M454.19 407.38L459.44 417.88L448.94 417.88Z" fill="#00ffff"/>
<path d="M454.19 435.39L459.44 445.89L448.94 445.89Z" fill="#00ffff"/>
<path d="M454.19 463.4L459.44 473.9L448.94 473.9Z" fill="#00ffff"/>
<path d="M454.19 491.41L459.44 501.91L448.94 501.91Z" fill="#00ffff"/>
<path d="M454.19 519.43L459.44 529.93L448.94 529.93Z" fill="#00ffff"/>
<path d="M454.19 547.44L459.44 557.94L448.94 557.94Z" fill="#00ffff"/>
<path d="M454.19 575.45L459.44 585.95L448.94 585.95Z" fill="#00ffff"/>
<path d="M493.45 295.33L498.7 305.83L488.2 305.83Z" fill="#00ffff"/>
<path d="M493.45 323.34L498.7 333.84L488.2 333.84Z" fill="#00ffff"/>
<path d="M493.45 351.35L498.7 361.85L488.2 361.85Z" fill="#00ffff"/>
<path d="M493.45 379.36L498.7 389.86L488.2 389.86Z" fill="#00ffff"/>
<path d="M493.45 407.38L498.7 417.88L488.2 417.88Z" fill="#00ffff"/>
<path d="M493.45 435.39L498.7 445.89L488.2 445.89Z" fill="#00ffff"/>
<path d="M493.45 463.4L498.7 473.9L488.2 473.9Z" fill="#00ffff"/>
<path d="M493.45 491.41L498.7 501.91L488.2 501.91Z" fill="#00ffff"/>
<path d="M493.45 519.43L498.7 529.93L488.2 529.93Z" fill="#00ffff"/>
<path d="M493.45 547.44L498.7 557.94L488.2 557.94Z" fill="#00ffff"/>
<path d="M493.45 575.45L498.7 585.95L488.2 585.95Z" fill="#00ffff"/>
<path d="M532.71 323.34L537.96 333.84L527.46 333.84Z" fill="#00ffff"/>
<path d="M532.71 351.35L537.96 361.85L527.46 361.85Z" fill="#00ffff"/>
<path d="M532.71 379.36L537.96 389.86L527.46 389.86Z" fill="#00ffff"/>
<path d="M532.71 407.38L537.96 417.88L527.46 417.88Z" fill="#00ffff"/>
<path d="M532.71 435.39L537.96 445.89L527.46 445.89Z" fill="#00ffff"/>
<path d="M532.71 463.4L537.96 473.9L527.46 473.9Z" fill="#00ffff"/>
<path d="M532.71 491.41L537.96 501.91L527.46 501.91Z" fill="#00ffff"/>
<path d="M532.71 519.43L537.96 529.93L527.46 529.93Z" fill="#00ffff"/>
<path d="M532.71 547.44L537.96 557.94L527.46 557.94Z" fill="#00ffff"/>
<path d="M532.71 575.45L537.96 585.95L527.46 585.95Z" fill="#00ffff"/>
<path d="M571.98 351.35L577.23 361.85L566.73 361.85Z" fill="#00ffff"/>
<path d="M571.98 379.36L577.23 389.86L566.73 389.86Z" fill="#00ffff"/>
<path d="M571.98 407.38L577.23 417.88L566.73 417.88Z" fill="#00ffff"/>
<path d="M571.98 435.39L577.23 445.89L566.73 445.89Z" fill="#00ffff"/>
<path d="M571.98 463.4L577.23 473.9L566.73 473.9Z" fill="#00ffff"/>
<path d="M571.98 491.41L577.23 501.91L566.73 501.91Z" fill="#00ffff"/>
<path d="M571.98 519.43L577.23 529.93L566.73 529.93Z" fill="#00ffff"/>
<path d="M571.98 547.44L577.23 557.94L566.73 557.94Z" fill="#00ffff"/>
<path d="M571.98 575.45L577.23 585.95L566.73 585.95Z" fill="#00ffff"/>
<path d="M611.25 379.36L616.5 389.86L606 389.86Z" fill="#00ffff"/>
<path d="M611.25 407.38L616.5 417.88L606 417.88Z" fill="#00ffff"/>
<path d="M611.25 435.39L616.5 445.89L606 445.89Z" fill="#00ffff"/>
<path d="M611.25 463.4L616.5 473.9L606 473.9Z" fill="#00ffff"/>
<path d="M611.25 491.41L616.5 501.91L606 501.91Z" fill="#00ffff"/>
<path d="M611.25 519.43L616.5 529.93L606 529.93Z" fill="#00ffff"/>
<path d="M611.25 547.44L616.5 557.94L606 557.94Z" fill="#00ffff"/>
<path d="M611.25 575.45L616.5 585.95L606 585.95Z" fill="#00ffff"/>
<path d="M650.51 379.36L655.76 389.86L645.26 389.86Z" fill="#00ffff"/>
<path d="M650.51 407.38L655.76 417.88L645.26 417.88Z" fill="#00ffff"/>
<path d="M650.51 435.39L655.76 445.89L645.26 445.89Z" fill="#00ffff"/>
<path d="M650.51 463.4L655.76 473.9L645.26 473.9Z" fill="#00ffff"/>
<path d="M650.51 491.41L655.76 501.91L645.26 501.91Z" fill="#00ffff"/>
<path d="M650.51 519.43L655.76 529.93L645.26 529.93Z" fill="#00ffff"/>
<path d="M650.51 547.44L655.76 557.94L645.26 557.94Z" fill="#00ffff"/>
<path d="M650.51 575.45L655.76 585.95L645.26 585.95Z" fill="#00ffff"/>
<path d="M689.77 407.38L695.02 417.88L684.52 417.88Z" fill="#00ffff"/>
<path d="M689.77 435.39L695.02 445.89L684.52 445.89Z" fill="#00ffff"/>
<path d="M689.77 463.4L695.02 473.9L684.52 473.9Z" fill="#00ffff"/>
<path d="M689.77 491.41L695.02 501.91L684.52 501.91Z" fill="#00ffff"/>
<path d="M689.77 519.43L695.02 529.93L684.52 529.93Z" fill="#00ffff"/>
<path d="M689.77 547.44L695.02 557.94L684.52 557.94Z" fill="#00ffff"/>
<path d="M689.77 575.45L695.02 585.95L684.52 585.95Z" fill="#00ffff"/>
<path d="M729.04 407.38L734.29 417.88L723.79 417.88Z" fill="#00ffff"/>
<path d="M729.04 435.39L734.29 445.89L723.79 445.89Z" fill="#00ffff"/>
<path d="M729.04 463.4L734.29 473.9L723.79 473.9Z" fill="#00ffff"/>
<path d="M729.04 491.41L734.29 501.91L723.79 501.91Z" fill="#00ffff"/>
<path d="M729.04 519.43L734.29 529.93L723.79 529.93Z" fill="#00ffff"/>
<path d="M729.04 547.44L734.29 557.94L723.79 557.94Z" fill="#00ffff"/>
<path d="M729.04 575.45L734.29 585.95L723.79 585.95Z" fill="#00ffff"/>
<path d="M768.3 407.38L773.55 417.88L763.05 417.88Z" fill="#00ffff"/>
<path d="M768.3 435.39L773.55 445.89L763.05 445.89Z" fill="#00ffff"/>
<path d="M768.3 463.4L773.55 473.9L763.05 473.9Z" fill="#00ffff"/>
<path d="M768.3 491.41L773.55 501.91L763.05 501.91Z" fill="#00ffff"/>
<path d="M768.3 519.43L773.55 529.93L763.05 529.93Z" fill="#00ffff"/>
<path d="M768.3 547.44L773.55 557.94L763.05 557.94Z" fill="#00ffff"/>
<path d="M768.3 575.45L773.55 585.95L763.05 585.95Z" fill="#00ffff"/>
<path d="M807.57 407.38L812.82 417.88L802.32 417.88Z" fill="#00ffff"/>
<path d="M807.57 435.39L812.82 445.89L802.32 445.89Z" fill="#00ffff"/>
<path d="M807.57 463.4L812.82 473.9L802.32 473.9Z" fill="#00ffff"/>
<path d="M807.57 491.41L812.82 501.91L802.32 501.91Z" fill="#00ffff"/>
<path d="M807.57 519.43L812.82 529.93L802.32 529.93Z" fill="#00ffff"/>
<path d="M807.57 547.44L812.82 557.94L802.32 557.94Z" fill="#00ffff"/>
<path d="M807.57 575.45L812.82 585.95L802.32 585.95Z" fill="#00ffff"/>
<path d="M846.83 407.38L852.08 417.88L841.58 417.88Z" fill="#00ffff"/>
<path d="M846.83 435.39L852.08 445.89L841.58 445.89Z" fill="#00ffff"/>
<path d="M846.83 463.4L852.08 473.9L841.58 473.9Z" fill="#00ffff"/>
<path d="M846.83 491.41L852.08 501.91L841.58 501.91Z" fill="#00ffff"/>
<path d="M846.83 519.43L852.08 529.93L841.58 529.93Z" fill="#00ffff"/>
<path d="M846.83 547.44L852.08 557.94L841.58 557.94Z" fill="#00ffff"/>
<path d="M846.83 575.45L852.08 585.95L841.58 585.95Z" fill="#00ffff"/>
<path d="M886.1 407.38L891.35 417.88L880.85 417.88Z" fill="#00ffff"/>
<path d="M886.1 435.39L891.35 445.89L880.85 445.89Z" fill="#00ffff"/>
<path d="M886.1 463.4L891.35 473.9L880.85 473.9Z" fill="#00ffff"/>
<path d="M886.1 491.41L891.35 501.91L880.85 501.91Z" fill="#00ffff"/>
<path d="M886.1 519.43L891.35 529.93L880.85 529.93Z" fill="#00ffff"/>
<path d="M886.1 547.44L891.35 557.94L880.85 557.94Z" fill="#00ffff"/>
<path d="M886.1 575.45L891.35 585.95L880.85 585.95Z" fill="#00ffff"/>
<g font-family="Liberation Sans, Arial, sans-serif" font-weight="bold" font-size="25" fill="#000">
<text x="80.6" y="588.4" text-anchor="end" transform="translate(80.6 0) scale(0.97 1) translate(-80.6 0)">0</text>
<text x="100.8" y="616.2" text-anchor="middle" transform="translate(100.8 0) scale(0.97 1) translate(-100.8 0)">0</text>
<text x="80.6" y="560.39" text-anchor="end" transform="translate(80.6 0) scale(0.97 1) translate(-80.6 0)">5</text>
<text x="140.06" y="616.2" text-anchor="middle" transform="translate(140.06 0) scale(0.97 1) translate(-140.06 0)">5</text>
<text x="80.6" y="532.38" text-anchor="end" transform="translate(80.6 0) scale(0.97 1) translate(-80.6 0)">10</text>
<text x="179.33" y="616.2" text-anchor="middle" transform="translate(179.33 0) scale(0.97 1) translate(-179.33 0)">10</text>
<text x="80.6" y="504.36" text-anchor="end" transform="translate(80.6 0) scale(0.97 1) translate(-80.6 0)">15</text>
<text x="218.59" y="616.2" text-anchor="middle" transform="translate(218.59 0) scale(0.97 1) translate(-218.59 0)">15</text>
<text x="80.6" y="476.35" text-anchor="end" transform="translate(80.6 0) scale(0.97 1) translate(-80.6 0)">20</text>
<text x="257.86" y="616.2" text-anchor="middle" transform="translate(257.86 0) scale(0.97 1) translate(-257.86 0)">20</text>
<text x="80.6" y="448.34" text-anchor="end" transform="translate(80.6 0) scale(0.97 1) translate(-80.6 0)">25</text>
<text x="297.12" y="616.2" text-anchor="middle" transform="translate(297.12 0) scale(0.97 1) translate(-297.12 0)">25</text>
<text x="80.6" y="420.33" text-anchor="end" transform="translate(80.6 0) scale(0.97 1) translate(-80.6 0)">30</text>
<text x="336.39" y="616.2" text-anchor="middle" transform="translate(336.39 0) scale(0.97 1) translate(-336.39 0)">30</text>
<text x="80.6" y="392.31" text-anchor="end" transform="translate(80.6 0) scale(0.97 1) translate(-80.6 0)">35</text>
<text x="375.66" y="616.2" text-anchor="middle" transform="translate(375.66 0) scale(0.97 1) translate(-375.66 0)">35</text>
<text x="80.6" y="364.3" text-anchor="end" transform="translate(80.6 0) scale(0.97 1) translate(-80.6 0)">40</text>
<text x="414.92" y="616.2" text-anchor="middle" transform="translate(414.92 0) scale(0.97 1) translate(-414.92 0)">40</text>
<text x="80.6" y="336.29" text-anchor="end" transform="translate(80.6 0) scale(0.97 1) translate(-80.6 0)">45</text>
<text x="454.19" y="616.2" text-anchor="middle" transform="translate(454.19 0) scale(0.97 1) translate(-454.19 0)">45</text>
<text x="80.6" y="308.28" text-anchor="end" transform="translate(80.6 0) scale(0.97 1) translate(-80.6 0)">50</text>
<text x="493.45" y="616.2" text-anchor="middle" transform="translate(493.45 0) scale(0.97 1) translate(-493.45 0)">50</text>
<text x="80.6" y="280.26" text-anchor="end" transform="translate(80.6 0) scale(0.97 1) translate(-80.6 0)">55</text>
<text x="532.71" y="616.2" text-anchor="middle" transform="translate(532.71 0) scale(0.97 1) translate(-532.71 0)">55</text>
<text x="80.6" y="252.25" text-anchor="end" transform="translate(80.6 0) scale(0.97 1) translate(-80.6 0)">60</text>
<text x="571.98" y="616.2" text-anchor="middle" transform="translate(571.98 0) scale(0.97 1) translate(-571.98 0)">60</text>
<text x="80.6" y="224.24" text-anchor="end" transform="translate(80.6 0) scale(0.97 1) translate(-80.6 0)">65</text>
<text x="611.25" y="616.2" text-anchor="middle" transform="translate(611.25 0) scale(0.97 1) translate(-611.25 0)">65</text>
<text x="80.6" y="196.23" text-anchor="end" transform="translate(80.6 0) scale(0.97 1) translate(-80.6 0)">70</text>
<text x="650.51" y="616.2" text-anchor="middle" transform="translate(650.51 0) scale(0.97 1) translate(-650.51 0)">70</text>
<text x="80.6" y="168.21" text-anchor="end" transform="translate(80.6 0) scale(0.97 1) translate(-80.6 0)">75</text>
<text x="689.77" y="616.2" text-anchor="middle" transform="translate(689.77 0) scale(0.97 1) translate(-689.77 0)">75</text>
<text x="80.6" y="140.2" text-anchor="end" transform="translate(80.6 0) scale(0.97 1) translate(-80.6 0)">80</text>
<text x="729.04" y="616.2" text-anchor="middle" transform="translate(729.04 0) scale(0.97 1) translate(-729.04 0)">80</text>
<text x="80.6" y="112.19" text-anchor="end" transform="translate(80.6 0) scale(0.97 1) translate(-80.6 0)">85</text>
<text x="768.3" y="616.2" text-anchor="middle" transform="translate(768.3 0) scale(0.97 1) translate(-768.3 0)">85</text>
<text x="80.6" y="84.17" text-anchor="end" transform="translate(80.6 0) scale(0.97 1) translate(-80.6 0)">90</text>
<text x="807.57" y="616.2" text-anchor="middle" transform="translate(807.57 0) scale(0.97 1) translate(-807.57 0)">90</text>
<text x="80.6" y="56.16" text-anchor="end" transform="translate(80.6 0) scale(0.97 1) translate(-80.6 0)">95</text>
<text x="846.83" y="616.2" text-anchor="middle" transform="translate(846.83 0) scale(0.97 1) translate(-846.83 0)">95</text>
<text x="80.6" y="28.15" text-anchor="end" transform="translate(80.6 0) scale(0.97 1) translate(-80.6 0)">100</text>
<text x="886.1" y="616.2" text-anchor="middle" transform="translate(886.1 0) scale(0.97 1) translate(-886.1 0)">100</text>
</g>
<rect x="1017.15" y="18.9" width="734" height="566.6" fill="none" stroke="#000" stroke-width="1.7"/>
<path d="M1009.65 585.5H1017.15M1017.15 585.5V593M1009.65 557.17H1017.15M1053.85 585.5V593M1009.65 528.84H1017.15M1090.55 585.5V593M1009.65 500.51H1017.15M1127.25 585.5V593M1009.65 472.18H1017.15M1163.95 585.5V593M1009.65 443.85H1017.15M1200.65 585.5V593M1009.65 415.52H1017.15M1237.35 585.5V593M1009.65 387.19H1017.15M1274.05 585.5V593M1009.65 358.86H1017.15M1310.75 585.5V593M1009.65 330.53H1017.15M1347.45 585.5V593M1009.65 302.2H1017.15M1384.15 585.5V593M1009.65 273.87H1017.15M1420.85 585.5V593M1009.65 245.54H1017.15M1457.55 585.5V593M1009.65 217.21H1017.15M1494.25 585.5V593M1009.65 188.88H1017.15M1530.95 585.5V593M1009.65 160.55H1017.15M1567.65 585.5V593M1009.65 132.22H1017.15M1604.35 585.5V593M1009.65 103.89H1017.15M1641.05 585.5V593M1009.65 75.56H1017.15M1677.75 585.5V593M1009.65 47.23H1017.15M1714.45 585.5V593M1009.65 18.9H1017.15M1751.15 585.5V593" stroke="#000" stroke-width="1.7" fill="none"/>
<path d="M1017.15 8.6L1027.45 18.9L1017.15 29.2L1006.85 18.9Z" fill="#000080"/>
<path d="M1017.15 36.93L1027.45 47.23L1017.15 57.53L1006.85 47.23Z" fill="#000080"/>
<path d="M1017.15 65.26L1027.45 75.56L1017.15 85.86L1006.85 75.56Z" fill="#000080"/>
<path d="M1017.15 93.59L1027.45 103.89L1017.15 114.19L1006.85 103.89Z" fill="#000080"/>
<path d="M1017.15 121.92L1027.45 132.22L1017.15 142.52L1006.85 132.22Z" fill="#000080"/>
<path d="M1017.15 150.25L1027.45 160.55L1017.15 170.85L1006.85 160.55Z" fill="#000080"/>
<path d="M1017.15 178.58L1027.45 188.88L1017.15 199.18L1006.85 188.88Z" fill="#000080"/>
<path d="M1017.15 206.91L1027.45 217.21L1017.15 227.51L1006.85 217.21Z" fill="#000080"/>
<path d="M1017.15 235.24L1027.45 245.54L1017.15 255.84L1006.85 245.54Z" fill="#000080"/>
<path d="M1017.15 263.57L1027.45 273.87L1017.15 284.17L1006.85 273.87Z" fill="#000080"/>
<path d="M1017.15 291.9L1027.45 302.2L1017.15 312.5L1006.85 302.2Z" fill="#000080"/>
<path d="M1017.15 320.23L1027.45 330.53L1017.15 340.83L1006.85 330.53Z" fill="#000080"/>
<path d="M1017.15 348.56L1027.45 358.86L1017.15 369.16L1006.85 358.86Z" fill="#000080"/>
<path d="M1017.15 376.89L1027.45 387.19L1017.15 397.49L1006.85 387.19Z" fill="#000080"/>
<path d="M1017.15 405.22L1027.45 415.52L1017.15 425.82L1006.85 415.52Z" fill="#000080"/>
<path d="M1017.15 433.55L1027.45 443.85L1017.15 454.15L1006.85 443.85Z" fill="#000080"/>
<path d="M1053.85 8.6L1064.15 18.9L1053.85 29.2L1043.55 18.9Z" fill="#000080"/>
<path d="M1053.85 36.93L1064.15 47.23L1053.85 57.53L1043.55 47.23Z" fill="#000080"/>
<path d="M1053.85 65.26L1064.15 75.56L1053.85 85.86L1043.55 75.56Z" fill="#000080"/>
<path d="M1053.85 93.59L1064.15 103.89L1053.85 114.19L1043.55 103.89Z" fill="#000080"/>
<path d="M1053.85 121.92L1064.15 132.22L1053.85 142.52L1043.55 132.22Z" fill="#000080"/>
<path d="M1053.85 150.25L1064.15 160.55L1053.85 170.85L1043.55 160.55Z" fill="#000080"/>
<path d="M1053.85 178.58L1064.15 188.88L1053.85 199.18L1043.55 188.88Z" fill="#000080"/>
<path d="M1053.85 206.91L1064.15 217.21L1053.85 227.51L1043.55 217.21Z" fill="#000080"/>
<path d="M1053.85 235.24L1064.15 245.54L1053.85 255.84L1043.55 245.54Z" fill="#000080"/>
<path d="M1053.85 263.57L1064.15 273.87L1053.85 284.17L1043.55 273.87Z" fill="#000080"/>
<path d="M1053.85 291.9L1064.15 302.2L1053.85 312.5L1043.55 302.2Z" fill="#000080"/>
<path d="M1053.85 320.23L1064.15 330.53L1053.85 340.83L1043.55 330.53Z" fill="#000080"/>
<path d="M1053.85 348.56L1064.15 358.86L1053.85 369.16L1043.55 358.86Z" fill="#000080"/>
<path d="M1053.85 376.89L1064.15 387.19L1053.85 397.49L1043.55 387.19Z" fill="#000080"/>
<path d="M1053.85 405.22L1064.15 415.52L1053.85 425.82L1043.55 415.52Z" fill="#000080"/>
<path d="M1053.85 433.55L1064.15 443.85L1053.85 454.15L1043.55 443.85Z" fill="#000080"/>
<path d="M1090.55 8.6L1100.85 18.9L1090.55 29.2L1080.25 18.9Z" fill="#000080"/>
<path d="M1090.55 36.93L1100.85 47.23L1090.55 57.53L1080.25 47.23Z" fill="#000080"/>
<path d="M1090.55 65.26L1100.85 75.56L1090.55 85.86L1080.25 75.56Z" fill="#000080"/>
<path d="M1090.55 93.59L1100.85 103.89L1090.55 114.19L1080.25 103.89Z" fill="#000080"/>
<path d="M1090.55 121.92L1100.85 132.22L1090.55 142.52L1080.25 132.22Z" fill="#000080"/>
<path d="M1090.55 150.25L1100.85 160.55L1090.55 170.85L1080.25 160.55Z" fill="#000080"/>
<path d="M1090.55 178.58L1100.85 188.88L1090.55 199.18L1080.25 188.88Z" fill="#000080"/>
<path d="M1090.55 206.91L1100.85 217.21L1090.55 227.51L1080.25 217.21Z" fill="#000080"/>
<path d="M1090.55 235.24L1100.85 245.54L1090.55 255.84L1080.25 245.54Z" fill="#000080"/>
<path d="M1090.55 263.57L1100.85 273.87L1090.55 284.17L1080.25 273.87Z" fill="#000080"/>
<path d="M1090.55 291.9L1100.85 302.2L1090.55 312.5L1080.25 302.2Z" fill="#000080"/>
<path d="M1090.55 320.23L1100.85 330.53L1090.55 340.83L1080.25 330.53Z" fill="#000080"/>
<path d="M1090.55 348.56L1100.85 358.86L1090.55 369.16L1080.25 358.86Z" fill="#000080"/>
<path d="M1090.55 376.89L1100.85 387.19L1090.55 397.49L1080.25 387.19Z" fill="#000080"/>
<path d="M1090.55 405.22L1100.85 415.52L1090.55 425.82L1080.25 415.52Z" fill="#000080"/>
<path d="M1090.55 433.55L1100.85 443.85L1090.55 454.15L1080.25 443.85Z" fill="#000080"/>
<path d="M1127.25 8.6L1137.55 18.9L1127.25 29.2L1116.95 18.9Z" fill="#000080"/>
<path d="M1127.25 36.93L1137.55 47.23L1127.25 57.53L1116.95 47.23Z" fill="#000080"/>
<path d="M1127.25 65.26L1137.55 75.56L1127.25 85.86L1116.95 75.56Z" fill="#000080"/>
<path d="M1127.25 93.59L1137.55 103.89L1127.25 114.19L1116.95 103.89Z" fill="#000080"/>
<path d="M1127.25 121.92L1137.55 132.22L1127.25 142.52L1116.95 132.22Z" fill="#000080"/>
<path d="M1127.25 150.25L1137.55 160.55L1127.25 170.85L1116.95 160.55Z" fill="#000080"/>
<path d="M1127.25 178.58L1137.55 188.88L1127.25 199.18L1116.95 188.88Z" fill="#000080"/>
<path d="M1127.25 206.91L1137.55 217.21L1127.25 227.51L1116.95 217.21Z" fill="#000080"/>
<path d="M1127.25 235.24L1137.55 245.54L1127.25 255.84L1116.95 245.54Z" fill="#000080"/>
<path d="M1127.25 263.57L1137.55 273.87L1127.25 284.17L1116.95 273.87Z" fill="#000080"/>
<path d="M1127.25 291.9L1137.55 302.2L1127.25 312.5L1116.95 302.2Z" fill="#000080"/>
<path d="M1127.25 320.23L1137.55 330.53L1127.25 340.83L1116.95 330.53Z" fill="#000080"/>
<path d="M1127.25 348.56L1137.55 358.86L1127.25 369.16L1116.95 358.86Z" fill="#000080"/>
<path d="M1127.25 376.89L1137.55 387.19L1127.25 397.49L1116.95 387.19Z" fill="#000080"/>
<path d="M1127.25 405.22L1137.55 415.52L1127.25 425.82L1116.95 415.52Z" fill="#000080"/>
<path d="M1127.25 433.55L1137.55 443.85L1127.25 454.15L1116.95 443.85Z" fill="#000080"/>
<path d="M1127.25 461.88L1137.55 472.18L1127.25 482.48L1116.95 472.18Z" fill="#000080"/>
<path d="M1163.95 8.6L1174.25 18.9L1163.95 29.2L1153.65 18.9Z" fill="#000080"/>
<path d="M1163.95 36.93L1174.25 47.23L1163.95 57.53L1153.65 47.23Z" fill="#000080"/>
<path d="M1163.95 65.26L1174.25 75.56L1163.95 85.86L1153.65 75.56Z" fill="#000080"/>
<path d="M1163.95 93.59L1174.25 103.89L1163.95 114.19L1153.65 103.89Z" fill="#000080"/>
<path d="M1163.95 121.92L1174.25 132.22L1163.95 142.52L1153.65 132.22Z" fill="#000080"/>
<path d="M1163.95 150.25L1174.25 160.55L1163.95 170.85L1153.65 160.55Z" fill="#000080"/>
<path d="M1163.95 178.58L1174.25 188.88L1163.95 199.18L1153.65 188.88Z" fill="#000080"/>
<path d="M1163.95 206.91L1174.25 217.21L1163.95 227.51L1153.65 217.21Z" fill="#000080"/>
<path d="M1163.95 235.24L1174.25 245.54L1163.95 255.84L1153.65 245.54Z" fill="#000080"/>
<path d="M1163.95 263.57L1174.25 273.87L1163.95 284.17L1153.65 273.87Z" fill="#000080"/>
<path d="M1163.95 291.9L1174.25 302.2L1163.95 312.5L1153.65 302.2Z" fill="#000080"/>
<path d="M1163.95 320.23L1174.25 330.53L1163.95 340.83L1153.65 330.53Z" fill="#000080"/>
<path d="M1163.95 348.56L1174.25 358.86L1163.95 369.16L1153.65 358.86Z" fill="#000080"/>
<path d="M1163.95 376.89L1174.25 387.19L1163.95 397.49L1153.65 387.19Z" fill="#000080"/>
<path d="M1163.95 405.22L1174.25 415.52L1163.95 425.82L1153.65 415.52Z" fill="#000080"/>
<path d="M1163.95 433.55L1174.25 443.85L1163.95 454.15L1153.65 443.85Z" fill="#000080"/>
<path d="M1163.95 461.88L1174.25 472.18L1163.95 482.48L1153.65 472.18Z" fill="#000080"/>
<path d="M1163.95 490.21L1174.25 500.51L1163.95 510.81L1153.65 500.51Z" fill="#000080"/>
<path d="M1200.65 8.6L1210.95 18.9L1200.65 29.2L1190.35 18.9Z" fill="#000080"/>
<path d="M1200.65 36.93L1210.95 47.23L1200.65 57.53L1190.35 47.23Z" fill="#000080"/>
<path d="M1200.65 65.26L1210.95 75.56L1200.65 85.86L1190.35 75.56Z" fill="#000080"/>
<path d="M1200.65 93.59L1210.95 103.89L1200.65 114.19L1190.35 103.89Z" fill="#000080"/>
<path d="M1200.65 121.92L1210.95 132.22L1200.65 142.52L1190.35 132.22Z" fill="#000080"/>
<path d="M1200.65 150.25L1210.95 160.55L1200.65 170.85L1190.35 160.55Z" fill="#000080"/>
<path d="M1200.65 178.58L1210.95 188.88L1200.65 199.18L1190.35 188.88Z" fill="#000080"/>
<path d="M1200.65 206.91L1210.95 217.21L1200.65 227.51L1190.35 217.21Z" fill="#000080"/>
<path d="M1200.65 235.24L1210.95 245.54L1200.65 255.84L1190.35 245.54Z" fill="#000080"/>
<path d="M1200.65 263.57L1210.95 273.87L1200.65 284.17L1190.35 273.87Z" fill="#000080"/>
<path d="M1200.65 291.9L1210.95 302.2L1200.65 312.5L1190.35 302.2Z" fill="#000080"/>
<path d="M1200.65 320.23L1210.95 330.53L1200.65 340.83L1190.35 330.53Z" fill="#000080"/>
<path d="M1200.65 348.56L1210.95 358.86L1200.65 369.16L1190.35 358.86Z" fill="#000080"/>
<path d="M1200.65 376.89L1210.95 387.19L1200.65 397.49L1190.35 387.19Z" fill="#000080"/>
<path d="M1200.65 405.22L1210.95 415.52L1200.65 425.82L1190.35 415.52Z" fill="#000080"/>
<path d="M1200.65 433.55L1210.95 443.85L1200.65 454.15L1190.35 443.85Z" fill="#000080"/>
<path d="M1200.65 461.88L1210.95 472.18L1200.65 482.48L1190.35 472.18Z" fill="#000080"/>
<path d="M1200.65 490.21L1210.95 500.51L1200.65 510.81L1190.35 500.51Z" fill="#000080"/>
<path d="M1200.65 518.54L1210.95 528.84L1200.65 539.14L1190.35 528.84Z" fill="#000080"/>
<path d="M1200.65 546.87L1210.95 557.17L1200.65 567.47L1190.35 557.17Z" fill="#000080"/>
<path d="M1200.65 575.2L1210.95 585.5L1200.65 595.8L1190.35 585.5Z" fill="#000080"/>
<path d="M1237.35 150.25L1247.65 160.55L1237.35 170.85L1227.05 160.55Z" fill="#000080"/>
<path d="M1237.35 178.58L1247.65 188.88L1237.35 199.18L1227.05 188.88Z" fill="#000080"/>
<path d="M1237.35 206.91L1247.65 217.21L1237.35 227.51L1227.05 217.21Z" fill="#000080"/>
<path d="M1237.35 235.24L1247.65 245.54L1237.35 255.84L1227.05 245.54Z" fill="#000080"/>
<path d="M1237.35 263.57L1247.65 273.87L1237.35 284.17L1227.05 273.87Z" fill="#000080"/>
<path d="M1237.35 291.9L1247.65 302.2L1237.35 312.5L1227.05 302.2Z" fill="#000080"/>
<path d="M1237.35 320.23L1247.65 330.53L1237.35 340.83L1227.05 330.53Z" fill="#000080"/>
<path d="M1237.35 348.56L1247.65 358.86L1237.35 369.16L1227.05 358.86Z" fill="#000080"/>
<path d="M1237.35 376.89L1247.65 387.19L1237.35 397.49L1227.05 387.19Z" fill="#000080"/>
<path d="M1237.35 405.22L1247.65 415.52L1237.35 425.82L1227.05 415.52Z" fill="#000080"/>
<path d="M1237.35 433.55L1247.65 443.85L1237.35 454.15L1227.05 443.85Z" fill="#000080"/>
<path d="M1237.35 461.88L1247.65 472.18L1237.35 482.48L1227.05 472.18Z" fill="#000080"/>
<path d="M1237.35 490.21L1247.65 500.51L1237.35 510.81L1227.05 500.51Z" fill="#000080"/>
<path d="M1237.35 518.54L1247.65 528.84L1237.35 539.14L1227.05 528.84Z" fill="#000080"/>
<path d="M1237.35 546.87L1247.65 557.17L1237.35 567.47L1227.05 557.17Z" fill="#000080"/>
<path d="M1237.35 575.2L1247.65 585.5L1237.35 595.8L1227.05 585.5Z" fill="#000080"/>
<path d="M1274.05 206.91L1284.35 217.21L1274.05 227.51L1263.75 217.21Z" fill="#000080"/>
<path d="M1274.05 235.24L1284.35 245.54L1274.05 255.84L1263.75 245.54Z" fill="#000080"/>
<path d="M1274.05 263.57L1284.35 273.87L1274.05 284.17L1263.75 273.87Z" fill="#000080"/>
<path d="M1274.05 291.9L1284.35 302.2L1274.05 312.5L1263.75 302.2Z" fill="#000080"/>
<path d="M1274.05 320.23L1284.35 330.53L1274.05 340.83L1263.75 330.53Z" fill="#000080"/>
<path d="M1274.05 348.56L1284.35 358.86L1274.05 369.16L1263.75 358.86Z" fill="#000080"/>
<path d="M1274.05 376.89L1284.35 387.19L1274.05 397.49L1263.75 387.19Z" fill="#000080"/>
<path d="M1274.05 405.22L1284.35 415.52L1274.05 425.82L1263.75 415.52Z" fill="#000080"/>
<path d="M1274.05 433.55L1284.35 443.85L1274.05 454.15L1263.75 443.85Z" fill="#000080"/>
<path d="M1274.05 461.88L1284.35 472.18L1274.05 482.48L1263.75 472.18Z" fill="#000080"/>
<path d="M1274.05 490.21L1284.35 500.51L1274.05 510.81L1263.75 500.51Z" fill="#000080"/>
<path d="M1274.05 518.54L1284.35 528.84L1274.05 539.14L1263.75 528.84Z" fill="#000080"/>
<path d="M1274.05 546.87L1284.35 557.17L1274.05 567.47L1263.75 557.17Z" fill="#000080"/>
<path d="M1274.05 575.2L1284.35 585.5L1274.05 595.8L1263.75 585.5Z" fill="#000080"/>
<path d="M1310.75 263.57L1321.05 273.87L1310.75 284.17L1300.45 273.87Z" fill="#000080"/>
<path d="M1310.75 291.9L1321.05 302.2L1310.75 312.5L1300.45 302.2Z" fill="#000080"/>
<path d="M1310.75 320.23L1321.05 330.53L1310.75 340.83L1300.45 330.53Z" fill="#000080"/>
<path d="M1310.75 348.56L1321.05 358.86L1310.75 369.16L1300.45 358.86Z" fill="#000080"/>
<path d="M1310.75 376.89L1321.05 387.19L1310.75 397.49L1300.45 387.19Z" fill="#000080"/>
<path d="M1310.75 405.22L1321.05 415.52L1310.75 425.82L1300.45 415.52Z" fill="#000080"/>
<path d="M1310.75 433.55L1321.05 443.85L1310.75 454.15L1300.45 443.85Z" fill="#000080"/>
<path d="M1310.75 461.88L1321.05 472.18L1310.75 482.48L1300.45 472.18Z" fill="#000080"/>
<path d="M1310.75 490.21L1321.05 500.51L1310.75 510.81L1300.45 500.51Z" fill="#000080"/>
<path d="M1310.75 518.54L1321.05 528.84L1310.75 539.14L1300.45 528.84Z" fill="#000080"/>
<path d="M1310.75 546.87L1321.05 557.17L1310.75 567.47L1300.45 557.17Z" fill="#000080"/>
<path d="M1310.75 575.2L1321.05 585.5L1310.75 595.8L1300.45 585.5Z" fill="#000080"/>
<path d="M1347.45 291.9L1357.75 302.2L1347.45 312.5L1337.15 302.2Z" fill="#000080"/>
<path d="M1347.45 320.23L1357.75 330.53L1347.45 340.83L1337.15 330.53Z" fill="#000080"/>
<path d="M1347.45 348.56L1357.75 358.86L1347.45 369.16L1337.15 358.86Z" fill="#000080"/>
<path d="M1347.45 376.89L1357.75 387.19L1347.45 397.49L1337.15 387.19Z" fill="#000080"/>
<path d="M1347.45 405.22L1357.75 415.52L1347.45 425.82L1337.15 415.52Z" fill="#000080"/>
<path d="M1347.45 433.55L1357.75 443.85L1347.45 454.15L1337.15 443.85Z" fill="#000080"/>
<path d="M1347.45 461.88L1357.75 472.18L1347.45 482.48L1337.15 472.18Z" fill="#000080"/>
<path d="M1347.45 490.21L1357.75 500.51L1347.45 510.81L1337.15 500.51Z" fill="#000080"/>
<path d="M1347.45 518.54L1357.75 528.84L1347.45 539.14L1337.15 528.84Z" fill="#000080"/>
<path d="M1347.45 546.87L1357.75 557.17L1347.45 567.47L1337.15 557.17Z" fill="#000080"/>
<path d="M1347.45 575.2L1357.75 585.5L1347.45 595.8L1337.15 585.5Z" fill="#000080"/>
<path d="M1384.15 320.23L1394.45 330.53L1384.15 340.83L1373.85 330.53Z" fill="#000080"/>
<path d="M1384.15 348.56L1394.45 358.86L1384.15 369.16L1373.85 358.86Z" fill="#000080"/>
<path d="M1384.15 376.89L1394.45 387.19L1384.15 397.49L1373.85 387.19Z" fill="#000080"/>
<path d="M1384.15 405.22L1394.45 415.52L1384.15 425.82L1373.85 415.52Z" fill="#000080"/>
<path d="M1384.15 433.55L1394.45 443.85L1384.15 454.15L1373.85 443.85Z" fill="#000080"/>
<path d="M1384.15 461.88L1394.45 472.18L1384.15 482.48L1373.85 472.18Z" fill="#000080"/>
<path d="M1384.15 490.21L1394.45 500.51L1384.15 510.81L1373.85 500.51Z" fill="#000080"/>
<path d="M1384.15 518.54L1394.45 528.84L1384.15 539.14L1373.85 528.84Z" fill="#000080"/>
<path d="M1384.15 546.87L1394.45 557.17L1384.15 567.47L1373.85 557.17Z" fill="#000080"/>
<path d="M1384.15 575.2L1394.45 585.5L1384.15 595.8L1373.85 585.5Z" fill="#000080"/>
<path d="M1420.85 348.56L1431.15 358.86L1420.85 369.16L1410.55 358.86Z" fill="#000080"/>
<path d="M1420.85 376.89L1431.15 387.19L1420.85 397.49L1410.55 387.19Z" fill="#000080"/>
<path d="M1420.85 405.22L1431.15 415.52L1420.85 425.82L1410.55 415.52Z" fill="#000080"/>
<path d="M1420.85 433.55L1431.15 443.85L1420.85 454.15L1410.55 443.85Z" fill="#000080"/>
<path d="M1420.85 461.88L1431.15 472.18L1420.85 482.48L1410.55 472.18Z" fill="#000080"/>
<path d="M1420.85 490.21L1431.15 500.51L1420.85 510.81L1410.55 500.51Z" fill="#000080"/>
<path d="M1420.85 518.54L1431.15 528.84L1420.85 539.14L1410.55 528.84Z" fill="#000080"/>
<path d="M1420.85 546.87L1431.15 557.17L1420.85 567.47L1410.55 557.17Z" fill="#000080"/>
<path d="M1420.85 575.2L1431.15 585.5L1420.85 595.8L1410.55 585.5Z" fill="#000080"/>
<path d="M1457.55 376.89L1467.85 387.19L1457.55 397.49L1447.25 387.19Z" fill="#000080"/>
<path d="M1457.55 405.22L1467.85 415.52L1457.55 425.82L1447.25 415.52Z" fill="#000080"/>
<path d="M1457.55 433.55L1467.85 443.85L1457.55 454.15L1447.25 443.85Z" fill="#000080"/>
<path d="M1457.55 461.88L1467.85 472.18L1457.55 482.48L1447.25 472.18Z" fill="#000080"/>
<path d="M1457.55 490.21L1467.85 500.51L1457.55 510.81L1447.25 500.51Z" fill="#000080"/>
<path d="M1457.55 518.54L1467.85 528.84L1457.55 539.14L1447.25 528.84Z" fill="#000080"/>
<path d="M1457.55 546.87L1467.85 557.17L1457.55 567.47L1447.25 557.17Z" fill="#000080"/>
<path d="M1457.55 575.2L1467.85 585.5L1457.55 595.8L1447.25 585.5Z" fill="#000080"/>
<path d="M1494.25 376.89L1504.55 387.19L1494.25 397.49L1483.95 387.19Z" fill="#000080"/>
<path d="M1494.25 405.22L1504.55 415.52L1494.25 425.82L1483.95 415.52Z" fill="#000080"/>
<path d="M1494.25 433.55L1504.55 443.85L1494.25 454.15L1483.95 443.85Z" fill="#000080"/>
<path d="M1494.25 461.88L1504.55 472.18L1494.25 482.48L1483.95 472.18Z" fill="#000080"/>
<path d="M1494.25 490.21L1504.55 500.51L1494.25 510.81L1483.95 500.51Z" fill="#000080"/>
<path d="M1494.25 518.54L1504.55 528.84L1494.25 539.14L1483.95 528.84Z" fill="#000080"/>
<path d="M1494.25 546.87L1504.55 557.17L1494.25 567.47L1483.95 557.17Z" fill="#000080"/>
<path d="M1494.25 575.2L1504.55 585.5L1494.25 595.8L1483.95 585.5Z" fill="#000080"/>
<path d="M1530.95 405.22L1541.25 415.52L1530.95 425.82L1520.65 415.52Z" fill="#000080"/>
<path d="M1530.95 433.55L1541.25 443.85L1530.95 454.15L1520.65 443.85Z" fill="#000080"/>
<path d="M1530.95 461.88L1541.25 472.18L1530.95 482.48L1520.65 472.18Z" fill="#000080"/>
<path d="M1530.95 490.21L1541.25 500.51L1530.95 510.81L1520.65 500.51Z" fill="#000080"/>
<path d="M1530.95 518.54L1541.25 528.84L1530.95 539.14L1520.65 528.84Z" fill="#000080"/>
<path d="M1530.95 546.87L1541.25 557.17L1530.95 567.47L1520.65 557.17Z" fill="#000080"/>
<path d="M1530.95 575.2L1541.25 585.5L1530.95 595.8L1520.65 585.5Z" fill="#000080"/>
<path d="M1567.65 405.22L1577.95 415.52L1567.65 425.82L1557.35 415.52Z" fill="#000080"/>
<path d="M1567.65 433.55L1577.95 443.85L1567.65 454.15L1557.35 443.85Z" fill="#000080"/>
<path d="M1567.65 461.88L1577.95 472.18L1567.65 482.48L1557.35 472.18Z" fill="#000080"/>
<path d="M1567.65 490.21L1577.95 500.51L1567.65 510.81L1557.35 500.51Z" fill="#000080"/>
<path d="M1567.65 518.54L1577.95 528.84L1567.65 539.14L1557.35 528.84Z" fill="#000080"/>
<path d="M1567.65 546.87L1577.95 557.17L1567.65 567.47L1557.35 557.17Z" fill="#000080"/>
<path d="M1567.65 575.2L1577.95 585.5L1567.65 595.8L1557.35 585.5Z" fill="#000080"/>
<path d="M1604.35 433.55L1614.65 443.85L1604.35 454.15L1594.05 443.85Z" fill="#000080"/>
<path d="M1604.35 461.88L1614.65 472.18L1604.35 482.48L1594.05 472.18Z" fill="#000080"/>
<path d="M1604.35 490.21L1614.65 500.51L1604.35 510.81L1594.05 500.51Z" fill="#000080"/>
<path d="M1604.35 518.54L1614.65 528.84L1604.35 539.14L1594.05 528.84Z" fill="#000080"/>
<path d="M1604.35 546.87L1614.65 557.17L1604.35 567.47L1594.05 557.17Z" fill="#000080"/>
<path d="M1604.35 575.2L1614.65 585.5L1604.35 595.8L1594.05 585.5Z" fill="#000080"/>
<path d="M1641.05 433.55L1651.35 443.85L1641.05 454.15L1630.75 443.85Z" fill="#000080"/>
<path d="M1641.05 461.88L1651.35 472.18L1641.05 482.48L1630.75 472.18Z" fill="#000080"/>
<path d="M1641.05 490.21L1651.35 500.51L1641.05 510.81L1630.75 500.51Z" fill="#000080"/>
<path d="M1641.05 518.54L1651.35 528.84L1641.05 539.14L1630.75 528.84Z" fill="#000080"/>
<path d="M1641.05 546.87L1651.35 557.17L1641.05 567.47L1630.75 557.17Z" fill="#000080"/>
<path d="M1641.05 575.2L1651.35 585.5L1641.05 595.8L1630.75 585.5Z" fill="#000080"/>
<path d="M1677.75 433.55L1688.05 443.85L1677.75 454.15L1667.45 443.85Z" fill="#000080"/>
<path d="M1677.75 461.88L1688.05 472.18L1677.75 482.48L1667.45 472.18Z" fill="#000080"/>
<path d="M1677.75 490.21L1688.05 500.51L1677.75 510.81L1667.45 500.51Z" fill="#000080"/>
<path d="M1677.75 518.54L1688.05 528.84L1677.75 539.14L1667.45 528.84Z" fill="#000080"/>
<path d="M1677.75 546.87L1688.05 557.17L1677.75 567.47L1667.45 557.17Z" fill="#000080"/>
<path d="M1677.75 575.2L1688.05 585.5L1677.75 595.8L1667.45 585.5Z" fill="#000080"/>
<path d="M1714.45 433.55L1724.75 443.85L1714.45 454.15L1704.15 443.85Z" fill="#000080"/>
<path d="M1714.45 461.88L1724.75 472.18L1714.45 482.48L1704.15 472.18Z" fill="#000080"/>
<path d="M1714.45 490.21L1724.75 500.51L1714.45 510.81L1704.15 500.51Z" fill="#000080"/>
<path d="M1714.45 518.54L1724.75 528.84L1714.45 539.14L1704.15 528.84Z" fill="#000080"/>
<path d="M1714.45 546.87L1724.75 557.17L1714.45 567.47L1704.15 557.17Z" fill="#000080"/>
<path d="M1714.45 575.2L1724.75 585.5L1714.45 595.8L1704.15 585.5Z" fill="#000080"/>
<path d="M1751.15 433.55L1761.45 443.85L1751.15 454.15L1740.85 443.85Z" fill="#000080"/>
<path d="M1751.15 461.88L1761.45 472.18L1751.15 482.48L1740.85 472.18Z" fill="#000080"/>
<path d="M1751.15 490.21L1761.45 500.51L1751.15 510.81L1740.85 500.51Z" fill="#000080"/>
<path d="M1751.15 518.54L1761.45 528.84L1751.15 539.14L1740.85 528.84Z" fill="#000080"/>
<path d="M1751.15 546.87L1761.45 557.17L1751.15 567.47L1740.85 557.17Z" fill="#000080"/>
<path d="M1751.15 575.2L1761.45 585.5L1751.15 595.8L1740.85 585.5Z" fill="#000080"/>
<rect x="1012.15" y="13.8" width="9.6" height="9.6" fill="#ff00ff"/>
<rect x="1012.15" y="42.13" width="9.6" height="9.6" fill="#ff00ff"/>
<rect x="1012.15" y="70.46" width="9.6" height="9.6" fill="#ff00ff"/>
<rect x="1012.15" y="98.79" width="9.6" height="9.6" fill="#ff00ff"/>
<rect x="1012.15" y="127.12" width="9.6" height="9.6" fill="#ff00ff"/>
<rect x="1012.15" y="155.45" width="9.6" height="9.6" fill="#ff00ff"/>
<rect x="1012.15" y="183.78" width="9.6" height="9.6" fill="#ff00ff"/>
<rect x="1012.15" y="212.11" width="9.6" height="9.6" fill="#ff00ff"/>
<rect x="1012.15" y="240.44" width="9.6" height="9.6" fill="#ff00ff"/>
<rect x="1012.15" y="268.77" width="9.6" height="9.6" fill="#ff00ff"/>
<rect x="1012.15" y="297.1" width="9.6" height="9.6" fill="#ff00ff"/>
<rect x="1012.15" y="325.43" width="9.6" height="9.6" fill="#ff00ff"/>
<rect x="1012.15" y="353.76" width="9.6" height="9.6" fill="#ff00ff"/>
<rect x="1012.15" y="382.09" width="9.6" height="9.6" fill="#ff00ff"/>
<rect x="1048.85" y="13.8" width="9.6" height="9.6" fill="#ff00ff"/>
<rect x="1048.85" y="42.13" width="9.6" height="9.6" fill="#ff00ff"/>
<rect x="1048.85" y="70.46" width="9.6" height="9.6" fill="#ff00ff"/>
<rect x="1048.85" y="98.79" width="9.6" height="9.6" fill="#ff00ff"/>
<rect x="1048.85" y="127.12" width="9.6" height="9.6" fill="#ff00ff"/>
<rect x="1048.85" y="155.45" width="9.6" height="9.6" fill="#ff00ff"/>
<rect x="1048.85" y="183.78" width="9.6" height="9.6" fill="#ff00ff"/>
<rect x="1048.85" y="212.11" width="9.6" height="9.6" fill="#ff00ff"/>
<rect x="1048.85" y="240.44" width="9.6" height="9.6" fill="#ff00ff"/>
<rect x="1048.85" y="268.77" width="9.6" height="9.6" fill="#ff00ff"/>
<rect x="1048.85" y="297.1" width="9.6" height="9.6" fill="#ff00ff"/>
<rect x="1048.85" y="325.43" width="9.6" height="9.6" fill="#ff00ff"/>
<rect x="1048.85" y="353.76" width="9.6" height="9.6" fill="#ff00ff"/>
<rect x="1048.85" y="382.09" width="9.6" height="9.6" fill="#ff00ff"/>
<rect x="1085.55" y="13.8" width="9.6" height="9.6" fill="#ff00ff"/>
<rect x="1085.55" y="42.13" width="9.6" height="9.6" fill="#ff00ff"/>
<rect x="1085.55" y="70.46" width="9.6" height="9.6" fill="#ff00ff"/>
<rect x="1085.55" y="98.79" width="9.6" height="9.6" fill="#ff00ff"/>
<rect x="1085.55" y="127.12" width="9.6" height="9.6" fill="#ff00ff"/>
<rect x="1085.55" y="155.45" width="9.6" height="9.6" fill="#ff00ff"/>
<rect x="1085.55" y="183.78" width="9.6" height="9.6" fill="#ff00ff"/>
<rect x="1085.55" y="212.11" width="9.6" height="9.6" fill="#ff00ff"/>
<rect x="1085.55" y="240.44" width="9.6" height="9.6" fill="#ff00ff"/>
<rect x="1085.55" y="268.77" width="9.6" height="9.6" fill="#ff00ff"/>
<rect x="1085.55" y="297.1" width="9.6" height="9.6" fill="#ff00ff"/>
<rect x="1085.55" y="325.43" width="9.6" height="9.6" fill="#ff00ff"/>
<rect x="1085.55" y="353.76" width="9.6" height="9.6" fill="#ff00ff"/>
<rect x="1085.55" y="382.09" width="9.6" height="9.6" fill="#ff00ff"/>
<rect x="1122.25" y="13.8" width="9.6" height="9.6" fill="#ff00ff"/>
<rect x="1122.25" y="42.13" width="9.6" height="9.6" fill="#ff00ff"/>
<rect x="1122.25" y="70.46" width="9.6" height="9.6" fill="#ff00ff"/>
<rect x="1122.25" y="98.79" width="9.6" height="9.6" fill="#ff00ff"/>
<rect x="1122.25" y="127.12" width="9.6" height="9.6" fill="#ff00ff"/>
<rect x="1122.25" y="155.45" width="9.6" height="9.6" fill="#ff00ff"/>
<rect x="1122.25" y="183.78" width="9.6" height="9.6" fill="#ff00ff"/>
<rect x="1122.25" y="212.11" width="9.6" height="9.6" fill="#ff00ff"/>
<rect x="1122.25" y="240.44" width="9.6" height="9.6" fill="#ff00ff"/>
<rect x="1122.25" y="268.77" width="9.6" height="9.6" fill="#ff00ff"/>
<rect x="1122.25" y="297.1" width="9.6" height="9.6" fill="#ff00ff"/>
<rect x="1122.25" y="325.43" width="9.6" height="9.6" fill="#ff00ff"/>
<rect x="1122.25" y="353.76" width="9.6" height="9.6" fill="#ff00ff"/>
<rect x="1122.25" y="382.09" width="9.6" height="9.6" fill="#ff00ff"/>
<rect x="1158.95" y="13.8" width="9.6" height="9.6" fill="#ff00ff"/>
<rect x="1158.95" y="42.13" width="9.6" height="9.6" fill="#ff00ff"/>
<rect x="1158.95" y="70.46" width="9.6" height="9.6" fill="#ff00ff"/>
<rect x="1158.95" y="98.79" width="9.6" height="9.6" fill="#ff00ff"/>
<rect x="1158.95" y="127.12" width="9.6" height="9.6" fill="#ff00ff"/>
<rect x="1158.95" y="155.45" width="9.6" height="9.6" fill="#ff00ff"/>
<rect x="1158.95" y="183.78" width="9.6" height="9.6" fill="#ff00ff"/>
<rect x="1158.95" y="212.11" width="9.6" height="9.6" fill="#ff00ff"/>
<rect x="1158.95" y="240.44" width="9.6" height="9.6" fill="#ff00ff"/>
<rect x="1158.95" y="268.77" width="9.6" height="9.6" fill="#ff00ff"/>
<rect x="1158.95" y="297.1" width="9.6" height="9.6" fill="#ff00ff"/>
<rect x="1158.95" y="325.43" width="9.6" height="9.6" fill="#ff00ff"/>
<rect x="1158.95" y="353.76" width="9.6" height="9.6" fill="#ff00ff"/>
<rect x="1158.95" y="382.09" width="9.6" height="9.6" fill="#ff00ff"/>
<rect x="1195.65" y="13.8" width="9.6" height="9.6" fill="#ff00ff"/>
<rect x="1195.65" y="42.13" width="9.6" height="9.6" fill="#ff00ff"/>
<rect x="1195.65" y="70.46" width="9.6" height="9.6" fill="#ff00ff"/>
<rect x="1195.65" y="98.79" width="9.6" height="9.6" fill="#ff00ff"/>
<rect x="1195.65" y="127.12" width="9.6" height="9.6" fill="#ff00ff"/>
<rect x="1195.65" y="155.45" width="9.6" height="9.6" fill="#ff00ff"/>
<rect x="1195.65" y="183.78" width="9.6" height="9.6" fill="#ff00ff"/>
<rect x="1195.65" y="212.11" width="9.6" height="9.6" fill="#ff00ff"/>
<rect x="1195.65" y="240.44" width="9.6" height="9.6" fill="#ff00ff"/>
<rect x="1195.65" y="268.77" width="9.6" height="9.6" fill="#ff00ff"/>
<rect x="1195.65" y="297.1" width="9.6" height="9.6" fill="#ff00ff"/>
<rect x="1195.65" y="325.43" width="9.6" height="9.6" fill="#ff00ff"/>
<rect x="1195.65" y="353.76" width="9.6" height="9.6" fill="#ff00ff"/>
<rect x="1195.65" y="382.09" width="9.6" height="9.6" fill="#ff00ff"/>
<rect x="1232.35" y="127.12" width="9.6" height="9.6" fill="#ff00ff"/>
<rect x="1232.35" y="155.45" width="9.6" height="9.6" fill="#ff00ff"/>
<rect x="1232.35" y="183.78" width="9.6" height="9.6" fill="#ff00ff"/>
<rect x="1232.35" y="212.11" width="9.6" height="9.6" fill="#ff00ff"/>
<rect x="1232.35" y="240.44" width="9.6" height="9.6" fill="#ff00ff"/>
<rect x="1232.35" y="268.77" width="9.6" height="9.6" fill="#ff00ff"/>
<rect x="1232.35" y="297.1" width="9.6" height="9.6" fill="#ff00ff"/>
<rect x="1232.35" y="325.43" width="9.6" height="9.6" fill="#ff00ff"/>
<rect x="1232.35" y="353.76" width="9.6" height="9.6" fill="#ff00ff"/>
<rect x="1232.35" y="382.09" width="9.6" height="9.6" fill="#ff00ff"/>
<rect x="1232.35" y="410.42" width="9.6" height="9.6" fill="#ff00ff"/>
<rect x="1269.05" y="212.11" width="9.6" height="9.6" fill="#ff00ff"/>
<rect x="1269.05" y="240.44" width="9.6" height="9.6" fill="#ff00ff"/>
<rect x="1269.05" y="268.77" width="9.6" height="9.6" fill="#ff00ff"/>
<rect x="1269.05" y="297.1" width="9.6" height="9.6" fill="#ff00ff"/>
<rect x="1269.05" y="325.43" width="9.6" height="9.6" fill="#ff00ff"/>
<rect x="1269.05" y="353.76" width="9.6" height="9.6" fill="#ff00ff"/>
<rect x="1269.05" y="382.09" width="9.6" height="9.6" fill="#ff00ff"/>
<rect x="1269.05" y="410.42" width="9.6" height="9.6" fill="#ff00ff"/>
<rect x="1269.05" y="438.75" width="9.6" height="9.6" fill="#ff00ff"/>
<rect x="1269.05" y="467.08" width="9.6" height="9.6" fill="#ff00ff"/>
<rect x="1269.05" y="495.41" width="9.6" height="9.6" fill="#ff00ff"/>
<rect x="1269.05" y="523.74" width="9.6" height="9.6" fill="#ff00ff"/>
<rect x="1269.05" y="552.07" width="9.6" height="9.6" fill="#ff00ff"/>
<rect x="1269.05" y="580.4" width="9.6" height="9.6" fill="#ff00ff"/>
<rect x="1305.75" y="268.77" width="9.6" height="9.6" fill="#ff00ff"/>
<rect x="1305.75" y="297.1" width="9.6" height="9.6" fill="#ff00ff"/>
<rect x="1305.75" y="325.43" width="9.6" height="9.6" fill="#ff00ff"/>
<rect x="1305.75" y="353.76" width="9.6" height="9.6" fill="#ff00ff"/>
<rect x="1305.75" y="382.09" width="9.6" height="9.6" fill="#ff00ff"/>
<rect x="1305.75" y="410.42" width="9.6" height="9.6" fill="#ff00ff"/>
<rect x="1305.75" y="438.75" width="9.6" height="9.6" fill="#ff00ff"/>
<rect x="1305.75" y="467.08" width="9.6" height="9.6" fill="#ff00ff"/>
<rect x="1305.75" y="495.41" width="9.6" height="9.6" fill="#ff00ff"/>
<rect x="1305.75" y="523.74" width="9.6" height="9.6" fill="#ff00ff"/>
<rect x="1305.75" y="552.07" width="9.6" height="9.6" fill="#ff00ff"/>
<rect x="1305.75" y="580.4" width="9.6" height="9.6" fill="#ff00ff"/>
<rect x="1342.45" y="297.1" width="9.6" height="9.6" fill="#ff00ff"/>
<rect x="1342.45" y="325.43" width="9.6" height="9.6" fill="#ff00ff"/>
<rect x="1342.45" y="353.76" width="9.6" height="9.6" fill="#ff00ff"/>
<rect x="1342.45" y="382.09" width="9.6" height="9.6" fill="#ff00ff"/>
<rect x="1342.45" y="410.42" width="9.6" height="9.6" fill="#ff00ff"/>
<rect x="1342.45" y="438.75" width="9.6" height="9.6" fill="#ff00ff"/>
<rect x="1342.45" y="467.08" width="9.6" height="9.6" fill="#ff00ff"/>
<rect x="1342.45" y="495.41" width="9.6" height="9.6" fill="#ff00ff"/>
<rect x="1342.45" y="523.74" width="9.6" height="9.6" fill="#ff00ff"/>
<rect x="1342.45" y="552.07" width="9.6" height="9.6" fill="#ff00ff"/>
<rect x="1342.45" y="580.4" width="9.6" height="9.6" fill="#ff00ff"/>
<rect x="1379.15" y="325.43" width="9.6" height="9.6" fill="#ff00ff"/>
<rect x="1379.15" y="353.76" width="9.6" height="9.6" fill="#ff00ff"/>
<rect x="1379.15" y="382.09" width="9.6" height="9.6" fill="#ff00ff"/>
<rect x="1379.15" y="410.42" width="9.6" height="9.6" fill="#ff00ff"/>
<rect x="1379.15" y="438.75" width="9.6" height="9.6" fill="#ff00ff"/>
<rect x="1379.15" y="467.08" width="9.6" height="9.6" fill="#ff00ff"/>
<rect x="1379.15" y="495.41" width="9.6" height="9.6" fill="#ff00ff"/>
<rect x="1379.15" y="523.74" width="9.6" height="9.6" fill="#ff00ff"/>
<rect x="1379.15" y="552.07" width="9.6" height="9.6" fill="#ff00ff"/>
<rect x="1379.15" y="580.4" width="9.6" height="9.6" fill="#ff00ff"/>
<rect x="1415.85" y="353.76" width="9.6" height="9.6" fill="#ff00ff"/>
<rect x="1415.85" y="382.09" width="9.6" height="9.6" fill="#ff00ff"/>
<rect x="1415.85" y="410.42" width="9.6" height="9.6" fill="#ff00ff"/>
<rect x="1415.85" y="438.75" width="9.6" height="9.6" fill="#ff00ff"/>
<rect x="1415.85" y="467.08" width="9.6" height="9.6" fill="#ff00ff"/>
<rect x="1415.85" y="495.41" width="9.6" height="9.6" fill="#ff00ff"/>
<rect x="1415.85" y="523.74" width="9.6" height="9.6" fill="#ff00ff"/>
<rect x="1415.85" y="552.07" width="9.6" height="9.6" fill="#ff00ff"/>
<rect x="1415.85" y="580.4" width="9.6" height="9.6" fill="#ff00ff"/>
<rect x="1452.55" y="382.09" width="9.6" height="9.6" fill="#ff00ff"/>
<rect x="1452.55" y="410.42" width="9.6" height="9.6" fill="#ff00ff"/>
<rect x="1452.55" y="438.75" width="9.6" height="9.6" fill="#ff00ff"/>
<rect x="1452.55" y="467.08" width="9.6" height="9.6" fill="#ff00ff"/>
<rect x="1452.55" y="495.41" width="9.6" height="9.6" fill="#ff00ff"/>
<rect x="1452.55" y="523.74" width="9.6" height="9.6" fill="#ff00ff"/>
<rect x="1452.55" y="552.07" width="9.6" height="9.6" fill="#ff00ff"/>
<rect x="1452.55" y="580.4" width="9.6" height="9.6" fill="#ff00ff"/>
<rect x="1489.25" y="382.09" width="9.6" height="9.6" fill="#ff00ff"/>
<rect x="1489.25" y="410.42" width="9.6" height="9.6" fill="#ff00ff"/>
<rect x="1489.25" y="438.75" width="9.6" height="9.6" fill="#ff00ff"/>
<rect x="1489.25" y="467.08" width="9.6" height="9.6" fill="#ff00ff"/>
<rect x="1489.25" y="495.41" width="9.6" height="9.6" fill="#ff00ff"/>
<rect x="1489.25" y="523.74" width="9.6" height="9.6" fill="#ff00ff"/>
<rect x="1489.25" y="552.07" width="9.6" height="9.6" fill="#ff00ff"/>
<rect x="1489.25" y="580.4" width="9.6" height="9.6" fill="#ff00ff"/>
<rect x="1525.95" y="410.42" width="9.6" height="9.6" fill="#ff00ff"/>
<rect x="1525.95" y="438.75" width="9.6" height="9.6" fill="#ff00ff"/>
<rect x="1525.95" y="467.08" width="9.6" height="9.6" fill="#ff00ff"/>
<rect x="1525.95" y="495.41" width="9.6" height="9.6" fill="#ff00ff"/>
<rect x="1525.95" y="523.74" width="9.6" height="9.6" fill="#ff00ff"/>
<rect x="1525.95" y="552.07" width="9.6" height="9.6" fill="#ff00ff"/>
<rect x="1525.95" y="580.4" width="9.6" height="9.6" fill="#ff00ff"/>
<rect x="1562.65" y="410.42" width="9.6" height="9.6" fill="#ff00ff"/>
<rect x="1562.65" y="438.75" width="9.6" height="9.6" fill="#ff00ff"/>
<rect x="1562.65" y="467.08" width="9.6" height="9.6" fill="#ff00ff"/>
<rect x="1562.65" y="495.41" width="9.6" height="9.6" fill="#ff00ff"/>
<rect x="1562.65" y="523.74" width="9.6" height="9.6" fill="#ff00ff"/>
<rect x="1562.65" y="552.07" width="9.6" height="9.6" fill="#ff00ff"/>
<rect x="1562.65" y="580.4" width="9.6" height="9.6" fill="#ff00ff"/>
<rect x="1599.35" y="410.42" width="9.6" height="9.6" fill="#ff00ff"/>
<rect x="1599.35" y="438.75" width="9.6" height="9.6" fill="#ff00ff"/>
<rect x="1599.35" y="467.08" width="9.6" height="9.6" fill="#ff00ff"/>
<rect x="1599.35" y="495.41" width="9.6" height="9.6" fill="#ff00ff"/>
<rect x="1599.35" y="523.74" width="9.6" height="9.6" fill="#ff00ff"/>
<rect x="1599.35" y="552.07" width="9.6" height="9.6" fill="#ff00ff"/>
<rect x="1599.35" y="580.4" width="9.6" height="9.6" fill="#ff00ff"/>
<rect x="1636.05" y="438.75" width="9.6" height="9.6" fill="#ff00ff"/>
<rect x="1636.05" y="467.08" width="9.6" height="9.6" fill="#ff00ff"/>
<rect x="1636.05" y="495.41" width="9.6" height="9.6" fill="#ff00ff"/>
<rect x="1636.05" y="523.74" width="9.6" height="9.6" fill="#ff00ff"/>
<rect x="1636.05" y="552.07" width="9.6" height="9.6" fill="#ff00ff"/>
<rect x="1636.05" y="580.4" width="9.6" height="9.6" fill="#ff00ff"/>
<rect x="1672.75" y="438.75" width="9.6" height="9.6" fill="#ff00ff"/>
<rect x="1672.75" y="467.08" width="9.6" height="9.6" fill="#ff00ff"/>
<rect x="1672.75" y="495.41" width="9.6" height="9.6" fill="#ff00ff"/>
<rect x="1672.75" y="523.74" width="9.6" height="9.6" fill="#ff00ff"/>
<rect x="1672.75" y="552.07" width="9.6" height="9.6" fill="#ff00ff"/>
<rect x="1672.75" y="580.4" width="9.6" height="9.6" fill="#ff00ff"/>
<rect x="1709.45" y="438.75" width="9.6" height="9.6" fill="#ff00ff"/>
<rect x="1709.45" y="467.08" width="9.6" height="9.6" fill="#ff00ff"/>
<rect x="1709.45" y="495.41" width="9.6" height="9.6" fill="#ff00ff"/>
<rect x="1709.45" y="523.74" width="9.6" height="9.6" fill="#ff00ff"/>
<rect x="1709.45" y="552.07" width="9.6" height="9.6" fill="#ff00ff"/>
<rect x="1709.45" y="580.4" width="9.6" height="9.6" fill="#ff00ff"/>
<rect x="1746.15" y="438.75" width="9.6" height="9.6" fill="#ff00ff"/>
<rect x="1746.15" y="467.08" width="9.6" height="9.6" fill="#ff00ff"/>
<rect x="1746.15" y="495.41" width="9.6" height="9.6" fill="#ff00ff"/>
<rect x="1746.15" y="523.74" width="9.6" height="9.6" fill="#ff00ff"/>
<rect x="1746.15" y="552.07" width="9.6" height="9.6" fill="#ff00ff"/>
<rect x="1746.15" y="580.4" width="9.6" height="9.6" fill="#ff00ff"/>
<g font-family="Liberation Sans, Arial, sans-serif" font-weight="bold" font-size="25" fill="#000">
<text x="996.3" y="592.4" text-anchor="end" transform="translate(996.3 0) scale(0.96 1) translate(-996.3 0)">0</text>
<text x="1017.15" y="622.5" text-anchor="middle" transform="translate(1017.15 0) scale(0.96 1) translate(-1017.15 0)">0</text>
<text x="996.3" y="564.07" text-anchor="end" transform="translate(996.3 0) scale(0.96 1) translate(-996.3 0)">5</text>
<text x="1053.85" y="622.5" text-anchor="middle" transform="translate(1053.85 0) scale(0.96 1) translate(-1053.85 0)">5</text>
<text x="996.3" y="535.74" text-anchor="end" transform="translate(996.3 0) scale(0.96 1) translate(-996.3 0)">10</text>
<text x="1090.55" y="622.5" text-anchor="middle" transform="translate(1090.55 0) scale(0.96 1) translate(-1090.55 0)">10</text>
<text x="996.3" y="507.41" text-anchor="end" transform="translate(996.3 0) scale(0.96 1) translate(-996.3 0)">15</text>
<text x="1127.25" y="622.5" text-anchor="middle" transform="translate(1127.25 0) scale(0.96 1) translate(-1127.25 0)">15</text>
<text x="996.3" y="479.08" text-anchor="end" transform="translate(996.3 0) scale(0.96 1) translate(-996.3 0)">20</text>
<text x="1163.95" y="622.5" text-anchor="middle" transform="translate(1163.95 0) scale(0.96 1) translate(-1163.95 0)">20</text>
<text x="996.3" y="450.75" text-anchor="end" transform="translate(996.3 0) scale(0.96 1) translate(-996.3 0)">25</text>
<text x="1200.65" y="622.5" text-anchor="middle" transform="translate(1200.65 0) scale(0.96 1) translate(-1200.65 0)">25</text>
<text x="996.3" y="422.42" text-anchor="end" transform="translate(996.3 0) scale(0.96 1) translate(-996.3 0)">30</text>
<text x="1237.35" y="622.5" text-anchor="middle" transform="translate(1237.35 0) scale(0.96 1) translate(-1237.35 0)">30</text>
<text x="996.3" y="394.09" text-anchor="end" transform="translate(996.3 0) scale(0.96 1) translate(-996.3 0)">35</text>
<text x="1274.05" y="622.5" text-anchor="middle" transform="translate(1274.05 0) scale(0.96 1) translate(-1274.05 0)">35</text>
<text x="996.3" y="365.76" text-anchor="end" transform="translate(996.3 0) scale(0.96 1) translate(-996.3 0)">40</text>
<text x="1310.75" y="622.5" text-anchor="middle" transform="translate(1310.75 0) scale(0.96 1) translate(-1310.75 0)">40</text>
<text x="996.3" y="337.43" text-anchor="end" transform="translate(996.3 0) scale(0.96 1) translate(-996.3 0)">45</text>
<text x="1347.45" y="622.5" text-anchor="middle" transform="translate(1347.45 0) scale(0.96 1) translate(-1347.45 0)">45</text>
<text x="996.3" y="309.1" text-anchor="end" transform="translate(996.3 0) scale(0.96 1) translate(-996.3 0)">50</text>
<text x="1384.15" y="622.5" text-anchor="middle" transform="translate(1384.15 0) scale(0.96 1) translate(-1384.15 0)">50</text>
<text x="996.3" y="280.77" text-anchor="end" transform="translate(996.3 0) scale(0.96 1) translate(-996.3 0)">55</text>
<text x="1420.85" y="622.5" text-anchor="middle" transform="translate(1420.85 0) scale(0.96 1) translate(-1420.85 0)">55</text>
<text x="996.3" y="252.44" text-anchor="end" transform="translate(996.3 0) scale(0.96 1) translate(-996.3 0)">60</text>
<text x="1457.55" y="622.5" text-anchor="middle" transform="translate(1457.55 0) scale(0.96 1) translate(-1457.55 0)">60</text>
<text x="996.3" y="224.11" text-anchor="end" transform="translate(996.3 0) scale(0.96 1) translate(-996.3 0)">65</text>
<text x="1494.25" y="622.5" text-anchor="middle" transform="translate(1494.25 0) scale(0.96 1) translate(-1494.25 0)">65</text>
<text x="996.3" y="195.78" text-anchor="end" transform="translate(996.3 0) scale(0.96 1) translate(-996.3 0)">70</text>
<text x="1530.95" y="622.5" text-anchor="middle" transform="translate(1530.95 0) scale(0.96 1) translate(-1530.95 0)">70</text>
<text x="996.3" y="167.45" text-anchor="end" transform="translate(996.3 0) scale(0.96 1) translate(-996.3 0)">75</text>
<text x="1567.65" y="622.5" text-anchor="middle" transform="translate(1567.65 0) scale(0.96 1) translate(-1567.65 0)">75</text>
<text x="996.3" y="139.12" text-anchor="end" transform="translate(996.3 0) scale(0.96 1) translate(-996.3 0)">80</text>
<text x="1604.35" y="622.5" text-anchor="middle" transform="translate(1604.35 0) scale(0.96 1) translate(-1604.35 0)">80</text>
<text x="996.3" y="110.79" text-anchor="end" transform="translate(996.3 0) scale(0.96 1) translate(-996.3 0)">85</text>
<text x="1641.05" y="622.5" text-anchor="middle" transform="translate(1641.05 0) scale(0.96 1) translate(-1641.05 0)">85</text>
<text x="996.3" y="82.46" text-anchor="end" transform="translate(996.3 0) scale(0.96 1) translate(-996.3 0)">90</text>
<text x="1677.75" y="622.5" text-anchor="middle" transform="translate(1677.75 0) scale(0.96 1) translate(-1677.75 0)">90</text>
<text x="996.3" y="54.13" text-anchor="end" transform="translate(996.3 0) scale(0.96 1) translate(-996.3 0)">95</text>
<text x="1714.45" y="622.5" text-anchor="middle" transform="translate(1714.45 0) scale(0.96 1) translate(-1714.45 0)">95</text>
<text x="996.3" y="25.8" text-anchor="end" transform="translate(996.3 0) scale(0.96 1) translate(-996.3 0)">100</text>
<text x="1751.15" y="622.5" text-anchor="middle" transform="translate(1751.15 0) scale(0.96 1) translate(-1751.15 0)">100</text>
</g>
<g font-family="Liberation Sans, Arial, sans-serif" font-weight="bold" fill="#000">
<text x="6" y="29.4" font-size="33">A</text>
<text x="917.5" y="29.8" font-size="33">B</text>
<text x="320.88" y="658.3" font-size="28.5" font-weight="bold" textLength="335.62" lengthAdjust="spacingAndGlyphs">Length along X axis (mm)</text>
<text x="1215.77" y="668.9" font-size="28.5" font-weight="bold" textLength="336.23" lengthAdjust="spacingAndGlyphs">Length along X axis (mm)</text>
<text x="-1.72" y="0" font-size="28.5" font-weight="bold" textLength="335.12" lengthAdjust="spacingAndGlyphs" transform="translate(27.6 459.1) rotate(-90)">Length along Y axis (mm)</text>
<text x="-1.75" y="0" font-size="29" font-weight="bold" textLength="340.76" lengthAdjust="spacingAndGlyphs" transform="translate(937.8 485.3) rotate(-90)">Length along Y axis (mm)</text>
</g>
<rect x="597.5" y="30" width="279.3" height="218" fill="#fff" stroke="#000" stroke-width="1.8"/>
<path d="M615.6 42.2L623.9 50.5L615.6 58.8L607.3 50.5Z" fill="#000080"/>
<circle cx="614.4" cy="122.3" r="7.6" fill="#ff0000"/>
<path d="M616 190.1L621.7 201.4L610.3 201.4Z" fill="#00ffff"/>
<g font-family="Liberation Sans, Arial, sans-serif" fill="#000">
<text x="630.7" y="58.2" font-size="27" font-weight="normal" textLength="236.55" lengthAdjust="spacingAndGlyphs">Smax/Smid &lt; 15%</text>
<text x="630.24" y="91.6" font-size="27" font-weight="normal" textLength="197.26" lengthAdjust="spacingAndGlyphs">(tcfrp = 0.8mm)</text>
<text x="630.7" y="130.2" font-size="27" font-weight="normal" textLength="236.55" lengthAdjust="spacingAndGlyphs">Smax/Smid &lt; 15%</text>
<text x="630.24" y="164.3" font-size="27" font-weight="normal" textLength="214.27" lengthAdjust="spacingAndGlyphs">(tcfrp = 0.48mm)</text>
<text x="630.7" y="202.8" font-size="27" font-weight="normal" textLength="236.55" lengthAdjust="spacingAndGlyphs">Smax/Smid &lt; 15%</text>
<text x="630.24" y="236.6" font-size="27" font-weight="normal" textLength="214.17" lengthAdjust="spacingAndGlyphs">(tcfrp = 0.16mm)</text>
</g>
<rect x="1449" y="34.8" width="285.1" height="173" fill="#fff" stroke="#000" stroke-width="1.8"/>
<path d="M1478 54.3L1485.9 62.2L1478 70.1L1470.1 62.2Z" fill="#000080"/>
<rect x="1472.55" y="143.75" width="9.7" height="9.7" fill="#ff00ff"/>
<g font-family="Liberation Sans, Arial, sans-serif" fill="#000">
<text x="1492.09" y="70.3" font-size="29" font-weight="normal" textLength="223.67" lengthAdjust="spacingAndGlyphs">Smax/Smid&lt;15%</text>
<text x="1491.63" y="104.5" font-size="29" font-weight="normal" textLength="155.59" lengthAdjust="spacingAndGlyphs">(R = 20mm)</text>
<text x="1492.09" y="156.9" font-size="29" font-weight="normal" textLength="223.67" lengthAdjust="spacingAndGlyphs">Smax/Smid&lt;15%</text>
<text x="1491.63" y="191.2" font-size="29" font-weight="normal" textLength="155.59" lengthAdjust="spacingAndGlyphs">(R = 30mm)</text>
</g>
</svg>
</body></html>
